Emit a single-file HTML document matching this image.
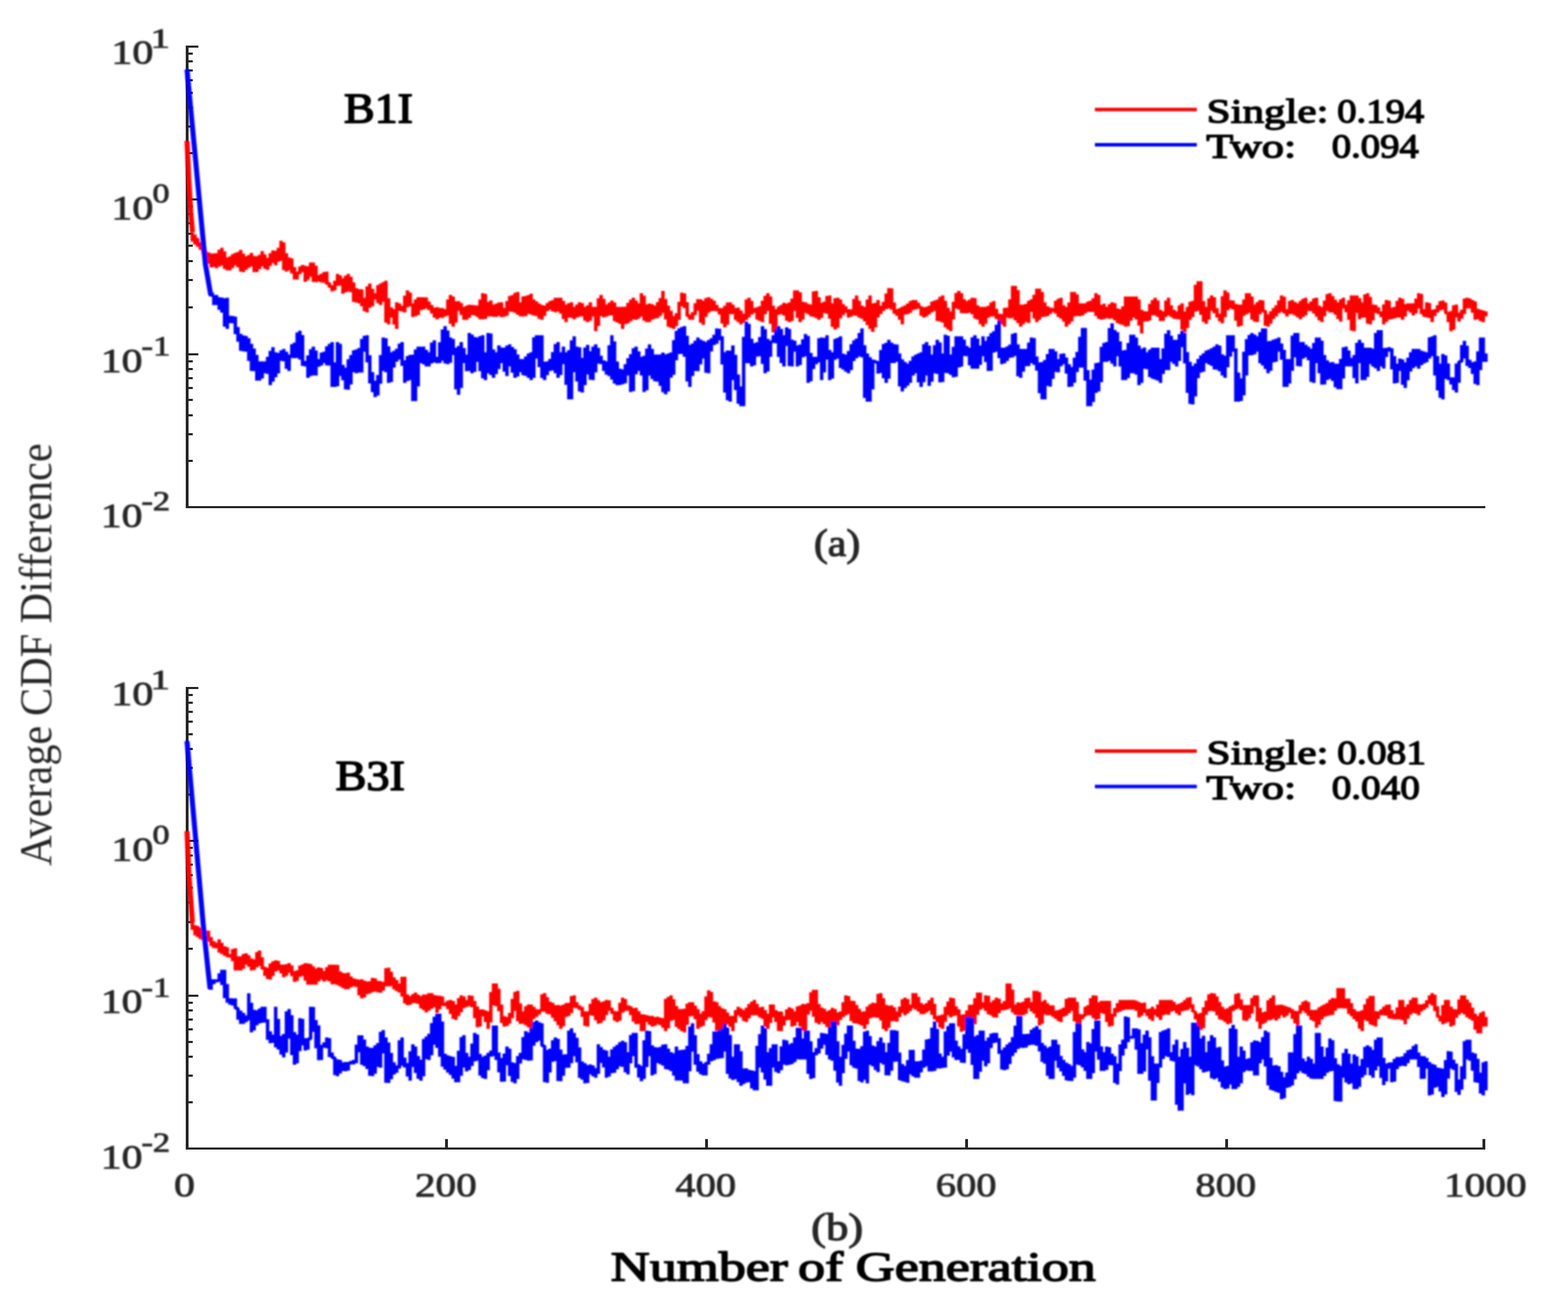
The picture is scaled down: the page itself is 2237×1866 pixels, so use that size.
<!DOCTYPE html>
<html lang="en"><head><meta charset="utf-8"><title>Average CDF Difference vs Number of Generation</title>
<style>html,body{margin:0;padding:0;background:#fff}body{width:2237px;height:1866px;overflow:hidden}svg{display:block}text{font-family:"Liberation Serif","DejaVu Serif",serif;white-space:pre}</style>
</head><body>
<svg width="2237" height="1866" viewBox="0 0 2237 1866">
<rect width="2237" height="1866" fill="#fff"/>
<defs><filter id="bl" x="-5%" y="-5%" width="110%" height="110%"><feGaussianBlur stdDeviation="1.08 0.90"/></filter></defs>
<g fill="#262626" shape-rendering="crispEdges">
<rect x="265" y="65" width="4" height="660"/>
<rect x="265" y="722" width="1854" height="3"/>
<path d="M269 217h6v3h-6zM269 179h6v3h-6zM269 152h6v3h-6zM269 131h6v3h-6zM269 113h6v3h-6zM269 99h6v3h-6zM269 86h6v3h-6zM269 75h6v3h-6zM269 437h6v3h-6zM269 398h6v3h-6zM269 371h6v3h-6zM269 349h6v3h-6zM269 332h6v3h-6zM269 317h6v3h-6zM269 304h6v3h-6zM269 293h6v3h-6zM269 656h6v3h-6zM269 618h6v3h-6zM269 591h6v3h-6zM269 569h6v3h-6zM269 552h6v3h-6zM269 538h6v3h-6zM269 525h6v3h-6zM269 514h6v3h-6zM269 65h14v3h-14zM269 283h14v3h-14zM269 504h14v3h-14z"/>
<rect x="265" y="980" width="4" height="660"/>
<rect x="265" y="1637" width="1854" height="3"/>
<path d="M269 1132h6v3h-6zM269 1094h6v3h-6zM269 1067h6v3h-6zM269 1046h6v3h-6zM269 1028h6v3h-6zM269 1014h6v3h-6zM269 1001h6v3h-6zM269 990h6v3h-6zM269 1352h6v3h-6zM269 1314h6v3h-6zM269 1286h6v3h-6zM269 1265h6v3h-6zM269 1247h6v3h-6zM269 1232h6v3h-6zM269 1219h6v3h-6zM269 1208h6v3h-6zM269 1571h6v3h-6zM269 1533h6v3h-6zM269 1506h6v3h-6zM269 1485h6v3h-6zM269 1467h6v3h-6zM269 1453h6v3h-6zM269 1440h6v3h-6zM269 1429h6v3h-6zM269 980h14v3h-14zM269 1198h14v3h-14zM269 1419h14v3h-14zM635 1625h4v12h-4zM1006 1625h4v12h-4zM1377 1625h4v12h-4zM1748 1625h4v12h-4zM2115 1625h4v12h-4z"/>
</g>
<g filter="url(#bl)">
<g transform="scale(1.2 1)" fill="none" stroke="#ff0000">
<path d="M222.33 201.0L224.58 259.0L226.83 304.0L228.58 327.0L228.62 331.4" stroke-width="6.0" stroke-linejoin="round" stroke-linecap="butt"/>
<path d="M228.62 331.4L228.62 331.4L228.62 344.6L228.62 339.5L231.82 339.5L231.82 334.4L231.82 348.9L231.82 344.2L235.02 344.2L235.02 339.6L235.02 352.0L235.02 348.7L238.21 348.7L238.21 345.4L238.21 356.4L238.21 354.3L241.41 354.3L241.41 352.2L241.41 362.6L241.41 360.0L244.61 360.0L244.61 357.3L244.61 370.7L244.61 365.4L247.81 365.4L247.81 360.1L247.81 376.2L247.81 368.8L251.00 368.8L251.00 361.5L251.00 381.5L251.00 371.1L254.20 371.1L254.20 361.5L254.20 380.8L254.20 371.1L257.40 371.1L257.40 361.3L257.40 382.4L257.40 370.8L260.60 370.8L260.60 356.3L260.60 380.2L260.60 367.6L263.79 367.6L263.79 353.4L263.79 378.8L263.79 368.7L266.99 368.7L266.99 358.5L266.99 383.5L266.99 375.3L270.19 375.3L270.19 367.2L270.19 385.8L270.19 376.5L273.39 376.5L273.39 365.7L273.39 385.8L273.39 374.1L276.58 374.1L276.58 362.5L276.58 382.5L276.58 370.5L279.78 370.5L279.78 360.8L279.78 378.5L279.78 369.6L282.98 369.6L282.98 359.4L282.98 381.6L282.98 370.5L286.18 370.5L286.18 356.6L286.18 387.6L286.18 374.7L289.37 374.7L289.37 361.7L289.37 388.2L289.37 375.2L292.57 375.2L292.57 365.5L292.57 384.9L292.57 373.8L295.77 373.8L295.77 363.7L295.77 382.0L295.77 371.9L298.97 371.9L298.97 360.7L298.97 380.1L298.97 372.7L302.16 372.7L302.16 365.2L302.16 388.2L302.16 376.9L305.36 376.9L305.36 365.5L305.36 388.2L305.36 374.7L308.56 374.7L308.56 363.5L308.56 383.9L308.56 371.8L311.75 371.8L311.75 358.2L311.75 380.1L311.75 371.6L314.95 371.6L314.95 363.1L314.95 383.4L314.95 375.7L318.15 375.7L318.15 368.0L318.15 385.0L318.15 373.8L321.35 373.8L321.35 361.2L321.35 379.6L321.35 368.2L324.55 368.2L324.55 357.2L324.55 375.3L324.55 366.5L327.74 366.5L327.74 357.8L327.74 378.5L327.74 365.7L330.94 365.7L330.94 353.4L330.94 373.6L330.94 362.7L334.14 362.7L334.14 343.6L334.14 372.0L334.14 358.9L337.34 358.9L337.34 345.7L337.34 385.2L337.34 373.3L340.53 373.3L340.53 361.3L340.53 387.4L340.53 376.5L343.73 376.5L343.73 367.2L343.73 385.7L343.73 377.1L346.93 377.1L346.93 368.6L346.93 390.3L346.93 385.7L350.13 385.7L350.13 381.0L350.13 398.7L350.13 393.1L353.32 393.1L353.32 387.4L353.32 398.8L353.32 389.2L356.52 389.2L356.52 380.2L356.52 390.9L356.52 384.2L359.72 384.2L359.72 378.1L359.72 388.2L359.72 383.8L362.92 383.8L362.92 379.3L362.92 402.0L362.92 389.6L366.11 389.6L366.11 379.8L366.11 399.4L366.11 387.3L369.31 387.3L369.31 374.4L369.31 394.7L369.31 384.6L372.51 384.6L372.51 374.4L372.51 402.3L372.51 390.7L375.71 390.7L375.71 379.0L375.71 402.6L375.71 397.0L378.90 397.0L378.90 392.3L378.90 401.7L378.90 397.0L382.10 397.0L382.10 390.6L382.10 402.8L382.10 396.7L385.30 396.7L385.30 388.1L385.30 403.5L385.30 395.8L388.50 395.8L388.50 387.4L388.50 405.9L388.50 404.4L391.69 404.4L391.69 402.9L391.69 410.6L391.69 408.8L394.89 408.8L394.89 406.9L394.89 415.8L394.89 410.6L398.09 410.6L398.09 400.6L398.09 414.3L398.09 404.1L401.29 404.1L401.29 390.7L401.29 407.7L401.29 400.1L404.48 400.1L404.48 392.7L404.48 407.5L404.48 402.3L407.68 402.3L407.68 397.1L407.68 419.0L407.68 407.1L410.88 407.1L410.88 393.2L410.88 417.1L410.88 404.5L414.07 404.5L414.07 390.7L414.07 415.8L414.07 405.3L417.27 405.3L417.27 394.8L417.27 416.8L417.27 409.7L420.47 409.7L420.47 402.7L420.47 430.8L420.47 421.0L423.67 421.0L423.67 411.1L423.67 431.5L423.67 422.0L426.87 422.0L426.87 412.4L426.87 432.7L426.87 422.7L430.06 422.7L430.06 412.8L430.06 436.9L430.06 430.8L433.26 430.8L433.26 424.7L433.26 443.9L433.26 434.3L436.46 434.3L436.46 408.5L436.46 445.8L436.46 423.7L439.66 423.7L439.66 404.4L439.66 439.0L439.66 424.4L442.85 424.4L442.85 412.1L442.85 436.7L442.85 422.7L446.05 422.7L446.05 418.2L446.05 427.2L446.05 422.7L449.25 422.7L449.25 406.7L449.25 432.4L449.25 419.5L452.44 419.5L452.44 404.4L452.44 435.3L452.44 417.4L455.64 417.4L455.64 402.5L455.64 430.4L455.64 416.4L458.84 416.4L458.84 400.4L458.84 460.2L458.84 442.9L462.04 442.9L462.04 425.6L462.04 462.8L462.04 445.9L465.24 445.9L465.24 438.6L465.24 453.1L465.24 447.0L468.43 447.0L468.43 440.9L468.43 463.0L468.43 452.0L471.63 452.0L471.63 431.2L471.63 469.3L471.63 438.0L474.83 438.0L474.83 432.7L474.83 443.4L474.83 439.7L478.03 439.7L478.03 436.1L478.03 444.4L478.03 440.2L481.22 440.2L481.22 421.7L481.22 445.8L481.22 430.2L484.42 430.2L484.42 414.2L484.42 438.6L484.42 427.1L487.62 427.1L487.62 417.3L487.62 436.9L487.62 434.8L490.82 434.8L490.82 432.8L490.82 452.3L490.82 441.9L494.01 441.9L494.01 427.2L494.01 451.0L494.01 438.4L497.21 438.4L497.21 423.9L497.21 449.5L497.21 433.2L500.41 433.2L500.41 423.9L500.41 442.5L500.41 432.8L503.61 432.8L503.61 423.9L503.61 441.6L503.61 432.2L506.80 432.2L506.80 424.3L506.80 440.1L506.80 435.0L510.00 435.0L510.00 429.9L510.00 442.5L510.00 438.7L513.20 438.7L513.20 435.0L513.20 447.3L513.20 443.0L516.39 443.0L516.39 438.7L516.39 453.0L516.39 445.8L519.59 445.8L519.59 438.3L519.59 455.5L519.59 446.5L522.79 446.5L522.79 439.3L522.79 453.6L522.79 446.4L525.99 446.4L525.99 439.4L525.99 453.4L525.99 446.2L529.19 446.2L529.19 440.9L529.19 451.5L529.19 445.5L532.38 445.5L532.38 427.2L532.38 450.2L532.38 438.7L535.58 438.7L535.58 420.7L535.58 462.1L535.58 442.6L538.78 442.6L538.78 423.0L538.78 466.1L538.78 445.0L541.98 445.0L541.98 429.7L541.98 460.4L541.98 436.6L545.17 436.6L545.17 429.6L545.17 443.4L545.17 437.8L548.37 437.8L548.37 432.3L548.37 449.4L548.37 443.5L551.57 443.5L551.57 437.7L551.57 456.3L551.57 447.0L554.77 447.0L554.77 436.0L554.77 456.3L554.77 444.7L557.96 444.7L557.96 434.8L557.96 453.4L557.96 442.2L561.16 442.2L561.16 435.0L561.16 449.5L561.16 442.5L564.36 442.5L564.36 435.5L564.36 449.9L564.36 442.8L567.56 442.8L567.56 435.8L567.56 452.2L567.56 444.0L570.75 444.0L570.75 427.2L570.75 455.5L570.75 441.4L573.95 441.4L573.95 418.2L573.95 455.5L573.95 437.2L577.15 437.2L577.15 419.3L577.15 455.1L577.15 441.1L580.35 441.1L580.35 430.8L580.35 451.4L580.35 441.0L583.54 441.0L583.54 428.4L583.54 451.2L583.54 442.8L586.74 442.8L586.74 434.4L586.74 451.9L586.74 443.2L589.94 443.2L589.94 433.2L589.94 452.0L589.94 442.0L593.14 442.0L593.14 431.5L593.14 450.8L593.14 441.1L596.33 441.1L596.33 431.2L596.33 452.6L596.33 445.5L599.53 445.5L599.53 439.3L599.53 451.7L599.53 444.9L602.73 444.9L602.73 429.5L602.73 450.5L602.73 437.0L605.93 437.0L605.93 422.3L605.93 444.6L605.93 433.5L609.12 433.5L609.12 421.1L609.12 445.0L609.12 433.0L612.32 433.0L612.32 417.8L612.32 446.3L612.32 432.1L615.52 432.1L615.52 416.6L615.52 449.1L615.52 440.1L618.72 440.1L618.72 431.2L618.72 451.3L618.72 441.2L621.91 441.2L621.91 422.7L621.91 451.5L621.91 436.8L625.11 436.8L625.11 422.3L625.11 450.9L625.11 435.1L628.31 435.1L628.31 420.9L628.31 447.8L628.31 434.4L631.51 434.4L631.51 419.0L631.51 448.8L631.51 438.0L634.70 438.0L634.70 427.2L634.70 450.2L634.70 440.2L637.90 440.2L637.90 430.1L637.90 451.1L637.90 442.1L641.10 442.1L641.10 433.0L641.10 454.7L641.10 444.8L644.30 444.8L644.30 435.0L644.30 456.3L644.30 443.4L647.49 443.4L647.49 436.1L647.49 450.7L647.49 440.1L650.69 440.1L650.69 432.3L650.69 444.1L650.69 437.0L653.89 437.0L653.89 429.6L653.89 441.7L653.89 435.7L657.09 435.7L657.09 428.2L657.09 444.3L657.09 436.3L660.28 436.3L660.28 424.7L660.28 445.5L660.28 434.6L663.48 434.6L663.48 424.7L663.48 444.5L663.48 434.6L666.68 434.6L666.68 424.7L666.68 447.4L666.68 438.3L669.88 438.3L669.88 429.2L669.88 455.2L669.88 444.8L673.07 444.8L673.07 434.4L673.07 459.6L673.07 443.8L676.27 443.8L676.27 432.6L676.27 453.1L676.27 442.9L679.47 442.9L679.47 431.2L679.47 453.6L679.47 445.7L682.67 445.7L682.67 437.7L682.67 455.5L682.67 445.3L685.86 445.3L685.86 434.6L685.86 453.0L685.86 443.0L689.06 443.0L689.06 431.2L689.06 451.5L689.06 442.0L692.26 442.0L692.26 432.5L692.26 451.5L692.26 444.6L695.46 444.6L695.46 437.7L695.46 457.4L695.46 447.5L698.65 447.5L698.65 435.6L698.65 459.6L698.65 446.5L701.85 446.5L701.85 431.2L701.85 457.4L701.85 444.6L705.05 444.6L705.05 437.7L705.05 451.5L705.05 444.6L708.25 444.6L708.25 437.7L708.25 472.6L708.25 451.4L711.44 451.4L711.44 425.6L711.44 465.1L711.44 438.3L714.64 438.3L714.64 420.7L714.64 451.0L714.64 438.7L717.84 438.7L717.84 426.3L717.84 452.7L717.84 443.1L721.03 443.1L721.03 434.4L721.03 451.8L721.03 442.2L724.23 442.2L724.23 431.7L724.23 449.9L724.23 440.8L727.43 440.8L727.43 428.8L727.43 449.9L727.43 440.7L730.63 440.7L730.63 431.5L730.63 458.3L730.63 448.0L733.83 448.0L733.83 437.7L733.83 460.1L733.83 448.9L737.02 448.9L737.02 437.7L737.02 462.0L737.02 449.8L740.22 449.8L740.22 437.7L740.22 469.3L740.22 449.9L743.42 449.9L743.42 437.5L743.42 462.2L743.42 449.4L746.62 449.4L746.62 432.0L746.62 461.2L746.62 445.2L749.81 445.2L749.81 427.4L749.81 458.5L749.81 441.6L753.01 441.6L753.01 424.7L753.01 455.8L753.01 442.3L756.21 442.3L756.21 428.8L756.21 456.2L756.21 443.6L759.41 443.6L759.41 432.8L759.41 454.5L759.41 442.1L762.60 442.1L762.60 418.2L762.60 451.5L762.60 436.8L765.80 436.8L765.80 422.0L765.80 457.5L765.80 445.9L769.00 445.9L769.00 434.2L769.00 459.6L769.00 446.9L772.20 446.9L772.20 433.0L772.20 459.6L772.20 445.0L775.39 445.0L775.39 434.0L775.39 456.0L775.39 445.3L778.59 445.3L778.59 436.1L778.59 454.5L778.59 444.9L781.79 444.9L781.79 431.0L781.79 453.8L781.79 440.9L784.99 440.9L784.99 425.2L784.99 450.8L784.99 435.9L788.18 435.9L788.18 415.0L788.18 446.6L788.18 436.6L791.38 436.6L791.38 426.5L791.38 455.8L791.38 445.9L794.58 445.9L794.58 436.0L794.58 466.0L794.58 454.6L797.78 454.6L797.78 443.2L797.78 467.7L797.78 459.2L800.97 459.2L800.97 450.7L800.97 469.3L800.97 457.9L804.17 457.9L804.17 446.7L804.17 465.2L804.17 451.6L807.37 451.6L807.37 430.4L807.37 456.5L807.37 433.6L810.57 433.6L810.57 417.4L810.57 436.9L810.57 427.7L813.76 427.7L813.76 418.6L813.76 439.6L813.76 435.3L816.96 435.3L816.96 431.0L816.96 450.2L816.96 450.4L820.16 450.4L820.16 450.7L820.16 456.3L820.16 453.5L823.36 453.5L823.36 445.2L823.36 456.3L823.36 447.4L826.55 447.4L826.55 432.5L826.55 449.6L826.55 437.9L829.75 437.9L829.75 426.8L829.75 443.4L829.75 435.2L832.95 435.2L832.95 427.0L832.95 460.5L832.95 444.7L836.15 444.7L836.15 429.0L836.15 463.6L836.15 440.5L839.34 440.5L839.34 425.2L839.34 452.0L839.34 435.7L842.54 435.7L842.54 423.9L842.54 446.2L842.54 435.1L845.74 435.1L845.74 426.2L845.74 444.0L845.74 436.2L848.94 436.2L848.94 429.1L848.94 443.4L848.94 439.1L852.13 439.1L852.13 434.8L852.13 444.2L852.13 441.7L855.33 441.7L855.33 439.3L855.33 448.7L855.33 444.1L858.53 444.1L858.53 439.6L858.53 461.5L858.53 450.6L861.73 450.6L861.73 436.2L861.73 466.9L861.73 449.7L864.92 449.7L864.92 431.5L864.92 463.2L864.92 439.8L868.12 439.8L868.12 431.2L868.12 448.2L868.12 441.2L871.32 441.2L871.32 434.5L871.32 447.9L871.32 443.6L874.52 443.6L874.52 439.2L874.52 456.4L874.52 447.8L877.71 447.8L877.71 438.8L877.71 459.5L877.71 451.3L880.91 451.3L880.91 443.0L880.91 462.8L880.91 453.9L884.11 453.9L884.11 447.4L884.11 460.4L884.11 452.0L887.31 452.0L887.31 427.2L887.31 456.6L887.31 439.9L890.50 439.9L890.50 424.7L890.50 452.7L890.50 439.0L893.70 439.0L893.70 429.3L893.70 448.7L893.70 443.0L896.90 443.0L896.90 439.3L896.90 446.6L896.90 443.0L900.10 443.0L900.10 438.2L900.10 455.9L900.10 447.0L903.29 447.0L903.29 436.7L903.29 457.8L903.29 447.3L906.49 447.3L906.49 428.9L906.49 459.6L906.49 438.8L909.69 438.8L909.69 422.0L909.69 448.6L909.69 432.7L912.88 432.7L912.88 418.2L912.88 443.4L912.88 433.1L916.08 433.1L916.08 422.8L916.08 462.1L916.08 449.1L919.28 449.1L919.28 436.0L919.28 474.2L919.28 457.4L922.48 457.4L922.48 440.9L922.48 473.9L922.48 445.0L925.67 445.0L925.67 437.3L925.67 449.1L925.67 442.8L928.87 442.8L928.87 435.0L928.87 448.2L928.87 441.6L932.07 441.6L932.07 432.0L932.07 450.3L932.07 441.6L935.27 441.6L935.27 432.9L935.27 457.5L935.27 445.2L938.47 445.2L938.47 431.6L938.47 459.6L938.47 444.8L941.66 444.8L941.66 426.0L941.66 458.0L941.66 434.7L944.86 434.7L944.86 414.2L944.86 443.4L944.86 428.8L948.06 428.8L948.06 414.2L948.06 453.5L948.06 435.2L951.26 435.2L951.26 417.0L951.26 459.6L951.26 443.2L954.45 443.2L954.45 430.5L954.45 455.9L954.45 438.9L957.65 438.9L957.65 431.2L957.65 446.6L957.65 440.0L960.85 440.0L960.85 433.5L960.85 448.3L960.85 441.4L964.05 441.4L964.05 434.4L964.05 451.3L964.05 442.9L967.24 442.9L967.24 415.8L967.24 451.9L967.24 433.8L970.44 433.8L970.44 415.0L970.44 453.8L970.44 438.9L973.64 438.9L973.64 423.9L973.64 456.3L973.64 442.7L976.84 442.7L976.84 432.0L976.84 453.4L976.84 439.3L980.03 439.3L980.03 430.3L980.03 446.6L980.03 438.5L983.23 438.5L983.23 422.3L983.23 447.7L983.23 435.0L986.43 435.0L986.43 421.5L986.43 454.8L986.43 443.8L989.62 443.8L989.62 432.8L989.62 466.3L989.62 449.5L992.82 449.5L992.82 425.5L992.82 470.1L992.82 446.6L996.02 446.6L996.02 424.7L996.02 467.7L996.02 440.8L999.22 440.8L999.22 427.3L999.22 454.2L999.22 441.6L1002.42 441.6L1002.42 433.7L1002.42 449.5L1002.42 441.8L1005.61 441.8L1005.61 436.9L1005.61 446.6L1005.61 443.8L1008.81 443.8L1008.81 440.9L1008.81 453.1L1008.81 446.5L1012.01 446.5L1012.01 441.2L1012.01 451.8L1012.01 445.5L1015.21 445.5L1015.21 426.6L1015.21 449.9L1015.21 438.3L1018.40 438.3L1018.40 421.5L1018.40 450.4L1018.40 439.7L1021.60 439.7L1021.60 428.9L1021.60 453.2L1021.60 444.6L1024.80 444.6L1024.80 436.0L1024.80 454.8L1024.80 446.3L1028.00 446.3L1028.00 437.7L1028.00 458.5L1028.00 448.1L1031.19 448.1L1031.19 427.2L1031.19 463.8L1031.19 445.5L1034.39 445.5L1034.39 421.5L1034.39 469.2L1034.39 451.0L1037.59 451.0L1037.59 432.8L1037.59 473.4L1037.59 450.1L1040.79 450.1L1040.79 431.9L1040.79 467.3L1040.79 442.5L1043.98 442.5L1043.98 428.0L1043.98 453.1L1043.98 442.1L1047.18 442.1L1047.18 436.1L1047.18 448.1L1047.18 439.9L1050.38 439.9L1050.38 430.4L1050.38 443.8L1050.38 435.7L1053.58 435.7L1053.58 418.7L1053.58 441.0L1053.58 429.4L1056.77 429.4L1056.77 410.9L1056.77 440.1L1056.77 425.7L1059.97 425.7L1059.97 411.3L1059.97 441.7L1059.97 436.7L1063.17 436.7L1063.17 431.6L1063.17 447.7L1063.17 444.3L1066.37 444.3L1066.37 440.9L1066.37 450.5L1066.37 445.7L1069.56 445.7L1069.56 439.4L1069.56 456.3L1069.56 447.9L1072.76 447.9L1072.76 437.5L1072.76 462.8L1072.76 443.2L1075.96 443.2L1075.96 435.7L1075.96 448.8L1075.96 442.0L1079.16 442.0L1079.16 432.9L1079.16 448.3L1079.16 439.6L1082.35 439.6L1082.35 429.5L1082.35 446.3L1082.35 436.1L1085.55 436.1L1085.55 428.0L1085.55 442.6L1085.55 434.6L1088.75 434.6L1088.75 428.0L1088.75 441.2L1088.75 435.9L1091.95 435.9L1091.95 431.7L1091.95 440.1L1091.95 438.4L1095.14 438.4L1095.14 436.7L1095.14 450.6L1095.14 444.4L1098.34 444.4L1098.34 438.3L1098.34 453.1L1098.34 444.9L1101.54 444.9L1101.54 437.7L1101.54 451.5L1101.54 443.1L1104.74 443.1L1104.74 435.9L1104.74 448.5L1104.74 440.8L1107.93 440.8L1107.93 430.3L1107.93 445.6L1107.93 436.8L1111.13 436.8L1111.13 428.7L1111.13 443.4L1111.13 436.0L1114.33 436.0L1114.33 427.4L1114.33 458.1L1114.33 442.8L1117.53 442.8L1117.53 423.4L1117.53 458.5L1117.53 440.9L1120.72 440.9L1120.72 421.5L1120.72 460.2L1120.72 444.7L1123.92 444.7L1123.92 429.1L1123.92 467.1L1123.92 453.0L1127.12 453.0L1127.12 439.0L1127.12 470.1L1127.12 457.1L1130.32 457.1L1130.32 444.2L1130.32 472.6L1130.32 449.9L1133.51 449.9L1133.51 430.5L1133.51 455.7L1133.51 435.3L1136.71 435.3L1136.71 418.0L1136.71 440.1L1136.71 429.1L1139.91 429.1L1139.91 415.0L1139.91 441.5L1139.91 429.9L1143.11 429.9L1143.11 418.3L1143.11 446.8L1143.11 436.8L1146.30 436.8L1146.30 426.7L1146.30 447.0L1146.30 438.3L1149.50 438.3L1149.50 429.6L1149.50 446.9L1149.50 437.8L1152.70 437.8L1152.70 427.5L1152.70 446.0L1152.70 436.8L1155.90 436.8L1155.90 424.7L1155.90 448.4L1155.90 436.8L1159.09 436.8L1159.09 425.2L1159.09 454.5L1159.09 445.0L1162.29 445.0L1162.29 435.5L1162.29 455.9L1162.29 446.8L1165.49 446.8L1165.49 437.7L1165.49 462.5L1165.49 450.1L1168.69 450.1L1168.69 437.7L1168.69 466.1L1168.69 449.7L1171.88 449.7L1171.88 437.7L1171.88 461.8L1171.88 445.4L1175.08 445.4L1175.08 436.3L1175.08 453.2L1175.08 443.9L1178.28 443.9L1178.28 431.4L1178.28 451.6L1178.28 441.4L1181.48 441.4L1181.48 429.6L1181.48 451.5L1181.48 446.0L1184.67 446.0L1184.67 440.5L1184.67 455.2L1184.67 451.3L1187.87 451.3L1187.87 447.4L1187.87 458.7L1187.87 453.4L1191.07 453.4L1191.07 448.1L1191.07 462.8L1191.07 455.4L1194.27 455.4L1194.27 439.2L1194.27 466.1L1194.27 446.2L1197.46 446.2L1197.46 438.7L1197.46 453.1L1197.46 445.9L1200.66 445.9L1200.66 427.0L1200.66 454.2L1200.66 440.2L1203.86 440.2L1203.86 407.7L1203.86 453.4L1203.86 430.5L1207.06 430.5L1207.06 407.7L1207.06 457.0L1207.06 435.4L1210.25 435.4L1210.25 413.7L1210.25 460.9L1210.25 447.7L1213.45 447.7L1213.45 434.5L1213.45 466.1L1213.45 448.5L1216.65 448.5L1216.65 434.4L1216.65 462.6L1216.65 446.8L1219.85 446.8L1219.85 433.4L1219.85 459.2L1219.85 446.3L1223.04 446.3L1223.04 429.0L1223.04 460.8L1223.04 437.0L1226.24 437.0L1226.24 427.0L1226.24 445.0L1226.24 436.0L1229.44 436.0L1229.44 420.5L1229.44 454.3L1229.44 437.4L1232.63 437.4L1232.63 411.7L1232.63 459.6L1232.63 434.2L1235.83 434.2L1235.83 411.7L1235.83 456.6L1235.83 434.3L1239.03 434.3L1239.03 416.5L1239.03 452.2L1239.03 441.7L1242.23 441.7L1242.23 431.6L1242.23 451.8L1242.23 443.9L1245.43 443.9L1245.43 436.9L1245.43 450.9L1245.43 443.4L1248.62 443.4L1248.62 438.8L1248.62 448.0L1248.62 442.1L1251.82 442.1L1251.82 439.3L1251.82 445.0L1251.82 442.1L1255.02 442.1L1255.02 429.0L1255.02 447.6L1255.02 438.3L1258.22 438.3L1258.22 426.2L1258.22 452.2L1258.22 439.2L1261.41 439.2L1261.41 424.7L1261.41 454.4L1261.41 444.9L1264.61 444.9L1264.61 435.4L1264.61 458.8L1264.61 448.2L1267.81 448.2L1267.81 437.7L1267.81 466.1L1267.81 450.2L1271.01 450.2L1271.01 431.6L1271.01 462.6L1271.01 445.2L1274.20 445.2L1274.20 416.6L1274.20 458.8L1274.20 434.0L1277.40 434.0L1277.40 416.6L1277.40 451.4L1277.40 435.5L1280.60 435.5L1280.60 420.1L1280.60 450.8L1280.60 441.8L1283.80 441.8L1283.80 432.8L1283.80 451.1L1283.80 441.5L1286.99 441.5L1286.99 432.8L1286.99 450.1L1286.99 440.0L1290.19 440.0L1290.19 432.8L1290.19 447.2L1290.19 438.9L1293.39 438.9L1293.39 430.2L1293.39 445.0L1293.39 437.6L1296.59 437.6L1296.59 429.1L1296.59 445.0L1296.59 437.0L1299.78 437.0L1299.78 425.6L1299.78 445.1L1299.78 435.3L1302.98 435.3L1302.98 418.2L1302.98 450.8L1302.98 435.8L1306.18 435.8L1306.18 420.7L1306.18 454.8L1306.18 444.8L1309.38 444.8L1309.38 434.8L1309.38 456.1L1309.38 445.0L1312.57 445.0L1312.57 433.3L1312.57 455.3L1312.57 445.8L1315.77 445.8L1315.77 437.7L1315.77 454.0L1315.77 445.8L1318.97 445.8L1318.97 433.9L1318.97 454.7L1318.97 444.3L1322.17 444.3L1322.17 431.2L1322.17 454.6L1322.17 443.6L1325.36 443.6L1325.36 432.5L1325.36 457.0L1325.36 448.5L1328.56 448.5L1328.56 439.9L1328.56 461.1L1328.56 451.0L1331.76 451.0L1331.76 440.9L1331.76 462.5L1331.76 451.7L1334.96 451.7L1334.96 436.9L1334.96 463.4L1334.96 450.2L1338.15 450.2L1338.15 423.1L1338.15 466.1L1338.15 444.2L1341.35 444.2L1341.35 423.1L1341.35 465.2L1341.35 440.2L1344.55 440.2L1344.55 423.1L1344.55 457.4L1344.55 438.1L1347.75 438.1L1347.75 423.1L1347.75 453.1L1347.75 438.1L1350.94 438.1L1350.94 423.1L1350.94 455.7L1350.94 441.4L1354.14 441.4L1354.14 427.2L1354.14 464.6L1354.14 453.3L1357.34 453.3L1357.34 441.9L1357.34 475.8L1357.34 451.4L1360.54 451.4L1360.54 443.9L1360.54 458.8L1360.54 451.4L1363.73 451.4L1363.73 444.2L1363.73 458.6L1363.73 450.7L1366.93 450.7L1366.93 433.4L1366.93 457.3L1366.93 441.5L1370.13 441.5L1370.13 427.9L1370.13 449.7L1370.13 438.8L1373.33 438.8L1373.33 424.7L1373.33 449.9L1373.33 439.2L1376.52 439.2L1376.52 428.6L1376.52 452.2L1376.52 447.1L1379.72 447.1L1379.72 441.9L1379.72 458.0L1379.72 451.0L1382.92 451.0L1382.92 444.2L1382.92 457.8L1382.92 448.2L1386.12 448.2L1386.12 428.7L1386.12 452.3L1386.12 439.3L1389.31 439.3L1389.31 424.7L1389.31 449.9L1389.31 442.7L1392.51 442.7L1392.51 435.5L1392.51 452.3L1392.51 447.0L1395.71 447.0L1395.71 441.7L1395.71 454.7L1395.71 449.4L1398.91 449.4L1398.91 444.2L1398.91 455.3L1398.91 449.8L1402.10 449.8L1402.10 435.4L1402.10 455.8L1402.10 445.6L1405.30 445.6L1405.30 432.8L1405.30 470.6L1405.30 457.4L1408.50 457.4L1408.50 444.2L1408.50 474.2L1408.50 456.1L1411.70 456.1L1411.70 437.8L1411.70 468.1L1411.70 447.2L1414.89 447.2L1414.89 430.4L1414.89 456.6L1414.89 441.3L1418.09 441.3L1418.09 429.2L1418.09 452.2L1418.09 436.8L1421.29 436.8L1421.29 406.3L1421.29 444.4L1421.29 424.8L1424.49 424.8L1424.49 401.2L1424.49 443.4L1424.49 422.3L1427.68 422.3L1427.68 401.2L1427.68 449.3L1427.68 439.4L1430.88 439.4L1430.88 429.6L1430.88 459.2L1430.88 448.4L1434.08 448.4L1434.08 437.7L1434.08 462.0L1434.08 446.8L1437.28 446.8L1437.28 425.6L1437.28 456.0L1437.28 434.5L1440.47 434.5L1440.47 421.5L1440.47 443.4L1440.47 433.6L1443.67 433.6L1443.67 423.9L1443.67 447.0L1443.67 443.2L1446.87 443.2L1446.87 439.4L1446.87 452.9L1446.87 450.2L1450.07 450.2L1450.07 447.4L1450.07 458.4L1450.07 452.9L1453.26 452.9L1453.26 422.6L1453.26 461.2L1453.26 437.6L1456.46 437.6L1456.46 414.2L1456.46 452.5L1456.46 429.9L1459.66 429.9L1459.66 417.3L1459.66 442.4L1459.66 434.2L1462.86 434.2L1462.86 428.3L1462.86 440.1L1462.86 434.4L1466.05 434.4L1466.05 428.8L1466.05 441.4L1466.05 437.4L1469.25 437.4L1469.25 433.4L1469.25 457.4L1469.25 445.9L1472.45 445.9L1472.45 434.4L1472.45 466.1L1472.45 449.5L1475.65 449.5L1475.65 434.4L1475.65 464.7L1475.65 442.4L1478.84 442.4L1478.84 427.2L1478.84 450.4L1478.84 437.7L1482.04 437.7L1482.04 418.2L1482.04 448.2L1482.04 432.4L1485.24 432.4L1485.24 418.2L1485.24 446.6L1485.24 434.8L1488.44 434.8L1488.44 422.9L1488.44 455.9L1488.44 445.2L1491.63 445.2L1491.63 434.4L1491.63 458.7L1491.63 446.6L1494.83 446.6L1494.83 431.1L1494.83 459.6L1494.83 439.7L1498.03 439.7L1498.03 428.0L1498.03 448.2L1498.03 434.4L1501.23 434.4L1501.23 428.6L1501.23 440.1L1501.23 443.8L1504.42 443.8L1504.42 447.4L1504.42 464.8L1504.42 456.6L1507.62 456.6L1507.62 448.3L1507.62 466.1L1507.62 455.0L1510.82 455.0L1510.82 444.0L1510.82 461.7L1510.82 449.5L1514.02 449.5L1514.02 439.5L1514.02 454.9L1514.02 445.4L1517.21 445.4L1517.21 435.6L1517.21 451.4L1517.21 441.4L1520.41 441.4L1520.41 428.6L1520.41 447.1L1520.41 436.8L1523.61 436.8L1523.61 421.5L1523.61 445.0L1523.61 434.1L1526.81 434.1L1526.81 423.3L1526.81 447.2L1526.81 444.0L1530.00 444.0L1530.00 440.9L1530.00 451.5L1530.00 444.6L1533.20 444.6L1533.20 429.3L1533.20 448.2L1533.20 438.7L1536.40 438.7L1536.40 428.0L1536.40 448.2L1536.40 439.5L1539.60 439.5L1539.60 430.8L1539.60 450.0L1539.60 441.4L1542.79 441.4L1542.79 432.8L1542.79 452.7L1542.79 442.7L1545.99 442.7L1545.99 429.2L1545.99 455.5L1545.99 440.7L1549.19 440.7L1549.19 426.2L1549.19 452.2L1549.19 438.2L1552.39 438.2L1552.39 424.7L1552.39 450.1L1552.39 438.1L1555.58 438.1L1555.58 432.8L1555.58 443.4L1555.58 438.1L1558.78 438.1L1558.78 429.9L1558.78 444.1L1558.78 437.0L1561.98 437.0L1561.98 425.7L1561.98 447.3L1561.98 436.5L1565.18 436.5L1565.18 424.7L1565.18 451.8L1565.18 443.9L1568.37 443.9L1568.37 436.1L1568.37 457.1L1568.37 447.4L1571.57 447.4L1571.57 437.7L1571.57 459.6L1571.57 444.4L1574.77 444.4L1574.77 428.7L1574.77 451.2L1574.77 436.1L1577.97 436.1L1577.97 419.4L1577.97 443.4L1577.97 431.4L1581.16 431.4L1581.16 418.2L1581.16 445.8L1581.16 434.1L1584.36 434.1L1584.36 422.3L1584.36 446.0L1584.36 436.8L1587.56 436.8L1587.56 427.6L1587.56 449.0L1587.56 440.1L1590.76 440.1L1590.76 431.2L1590.76 455.1L1590.76 443.1L1593.95 443.1L1593.95 427.1L1593.95 458.8L1593.95 433.6L1597.15 433.6L1597.15 424.7L1597.15 440.1L1597.15 437.3L1600.35 437.3L1600.35 434.4L1600.35 445.5L1600.35 440.0L1603.55 440.0L1603.55 428.6L1603.55 456.3L1603.55 442.5L1606.74 442.5L1606.74 421.5L1606.74 471.6L1606.74 446.5L1609.94 446.5L1609.94 421.5L1609.94 472.6L1609.94 434.0L1613.14 434.0L1613.14 421.5L1613.14 446.6L1613.14 435.9L1616.34 435.9L1616.34 425.3L1616.34 455.5L1616.34 442.2L1619.53 442.2L1619.53 431.2L1619.53 453.2L1619.53 442.1L1622.73 442.1L1622.73 420.1L1622.73 453.1L1622.73 436.6L1625.93 436.6L1625.93 418.2L1625.93 461.7L1625.93 442.6L1629.12 442.6L1629.12 423.5L1629.12 462.8L1629.12 445.7L1632.32 445.7L1632.32 434.3L1632.32 457.1L1632.32 440.8L1635.52 440.8L1635.52 435.0L1635.52 446.6L1635.52 442.4L1638.72 442.4L1638.72 438.3L1638.72 448.1L1638.72 446.1L1641.92 446.1L1641.92 444.2L1641.92 452.4L1641.92 448.3L1645.11 448.3L1645.11 434.3L1645.11 462.8L1645.11 446.8L1648.31 446.8L1648.31 428.0L1648.31 459.2L1648.31 442.5L1651.51 442.5L1651.51 429.1L1651.51 456.0L1651.51 446.9L1654.71 446.9L1654.71 438.7L1654.71 455.2L1654.71 446.5L1657.90 446.5L1657.90 437.7L1657.90 454.3L1657.90 445.4L1661.10 445.4L1661.10 429.3L1661.10 453.1L1661.10 441.2L1664.30 441.2L1664.30 424.7L1664.30 453.1L1664.30 439.7L1667.50 439.7L1667.50 426.3L1667.50 456.3L1667.50 442.7L1670.69 442.7L1670.69 433.9L1670.69 451.4L1670.69 438.7L1673.89 438.7L1673.89 432.8L1673.89 443.4L1673.89 438.1L1677.09 438.1L1677.09 432.8L1677.09 446.1L1677.09 439.5L1680.29 439.5L1680.29 432.8L1680.29 449.9L1680.29 440.0L1683.48 440.0L1683.48 425.9L1683.48 447.1L1683.48 433.0L1686.68 433.0L1686.68 418.2L1686.68 440.1L1686.68 429.7L1689.88 429.7L1689.88 419.2L1689.88 448.3L1689.88 444.6L1693.08 444.6L1693.08 440.9L1693.08 451.9L1693.08 446.4L1696.27 446.4L1696.27 431.2L1696.27 452.8L1696.27 442.5L1699.47 442.5L1699.47 432.2L1699.47 453.8L1699.47 447.9L1702.67 447.9L1702.67 442.0L1702.67 459.6L1702.67 446.5L1705.87 446.5L1705.87 440.9L1705.87 451.1L1705.87 443.4L1709.06 443.4L1709.06 435.3L1709.06 446.0L1709.06 439.0L1712.26 439.0L1712.26 429.4L1712.26 442.8L1712.26 435.6L1715.46 435.6L1715.46 428.8L1715.46 441.7L1715.46 436.6L1718.65 436.6L1718.65 431.5L1718.65 445.6L1718.65 446.5L1721.85 446.5L1721.85 447.4L1721.85 459.4L1721.85 453.4L1725.05 453.4L1725.05 443.7L1725.05 472.6L1725.05 457.1L1728.25 457.1L1728.25 435.4L1728.25 470.5L1728.25 444.3L1731.44 444.3L1731.44 434.4L1731.44 453.1L1731.44 449.4L1734.64 449.4L1734.64 445.8L1734.64 458.8L1734.64 450.3L1737.84 450.3L1737.84 441.7L1737.84 454.8L1737.84 444.8L1741.04 444.8L1741.04 425.9L1741.04 448.0L1741.04 433.0L1744.23 433.0L1744.23 424.7L1744.23 440.0L1744.23 432.9L1747.43 432.9L1747.43 425.8L1747.43 440.1L1747.43 434.0L1750.63 434.0L1750.63 428.0L1750.63 446.2L1750.63 438.1L1753.83 438.1L1753.83 430.0L1753.83 456.2L1753.83 447.9L1757.02 447.9L1757.02 440.6L1757.02 455.3L1757.02 448.5L1760.22 448.5L1760.22 441.7L1760.22 458.3L1760.22 450.7L1763.42 450.7L1763.42 443.0L1763.42 459.6L1763.42 447.8L1766.62 447.8L1766.62 444.2L1766.62 451.5" stroke-width="4.1" stroke-linejoin="bevel" stroke-linecap="butt"/>
</g>
<g transform="scale(1.2 1)" fill="none" stroke="#0000ff">
<path d="M222.33 99.0L244.17 376.7L250.42 420.0L254.20 420.7" stroke-width="6.0" stroke-linejoin="round" stroke-linecap="butt"/>
<path d="M254.20 420.7L254.20 420.7L254.20 435.2L254.20 428.0L257.40 428.0L257.40 420.7L257.40 435.3L257.40 429.7L260.60 429.7L260.60 424.1L260.60 441.9L260.60 433.2L263.79 433.2L263.79 424.5L263.79 445.9L263.79 435.7L266.99 435.7L266.99 425.5L266.99 466.1L266.99 445.8L270.19 445.8L270.19 424.7L270.19 469.3L270.19 455.7L273.39 455.7L273.39 450.4L273.39 461.0L273.39 455.9L276.58 455.9L276.58 450.8L276.58 461.2L276.58 456.4L279.78 456.4L279.78 451.7L279.78 476.7L279.78 471.7L282.98 471.7L282.98 466.6L282.98 487.5L282.98 481.9L286.18 481.9L286.18 476.3L286.18 500.5L286.18 489.5L289.37 489.5L289.37 478.5L289.37 501.2L289.37 490.2L292.57 490.2L292.57 479.3L292.57 501.7L292.57 492.1L295.77 492.1L295.77 482.5L295.77 514.9L295.77 502.7L298.97 502.7L298.97 490.5L298.97 529.2L298.97 513.2L302.16 513.2L302.16 497.3L302.16 529.6L302.16 518.0L305.36 518.0L305.36 506.3L305.36 543.1L305.36 529.3L308.56 529.3L308.56 515.5L308.56 543.1L308.56 527.8L311.75 527.8L311.75 515.5L311.75 540.1L311.75 524.0L314.95 524.0L314.95 515.4L314.95 532.5L314.95 524.0L318.15 524.0L318.15 509.1L318.15 533.4L318.15 521.3L321.35 521.3L321.35 500.6L321.35 549.6L321.35 522.6L324.55 522.6L324.55 495.2L324.55 544.5L324.55 520.4L327.74 520.4L327.74 502.5L327.74 538.2L327.74 518.0L330.94 518.0L330.94 503.4L330.94 532.7L330.94 509.0L334.14 509.0L334.14 499.7L334.14 514.7L334.14 507.2L337.34 507.2L337.34 497.7L337.34 515.5L337.34 508.7L340.53 508.7L340.53 501.8L340.53 526.3L340.53 516.0L343.73 516.0L343.73 505.8L343.73 529.3L343.73 508.2L346.93 508.2L346.93 490.9L346.93 510.7L346.93 500.8L350.13 500.8L350.13 488.7L350.13 511.1L350.13 499.7L353.32 499.7L353.32 474.2L353.32 510.8L353.32 492.5L356.52 492.5L356.52 471.7L356.52 513.0L356.52 495.5L359.72 495.5L359.72 478.0L359.72 521.9L359.72 518.3L362.92 518.3L362.92 514.7L362.92 522.8L362.92 518.8L366.11 518.8L366.11 507.0L366.11 539.0L366.11 521.8L369.31 521.8L369.31 498.2L369.31 536.6L369.31 516.8L372.51 516.8L372.51 494.4L372.51 535.4L372.51 517.7L375.71 517.7L375.71 499.9L375.71 535.8L375.71 517.8L378.90 517.8L378.90 512.3L378.90 523.3L378.90 516.9L382.10 516.9L382.10 502.9L382.10 521.5L382.10 510.4L385.30 510.4L385.30 501.8L385.30 518.0L385.30 509.9L388.50 509.9L388.50 494.0L388.50 521.2L388.50 507.6L391.69 507.6L391.69 490.5L391.69 521.6L391.69 506.0L394.89 506.0L394.89 487.9L394.89 552.0L394.89 534.6L398.09 534.6L398.09 517.1L398.09 552.0L398.09 534.1L401.29 534.1L401.29 487.9L401.29 551.1L401.29 513.6L404.48 513.6L404.48 490.6L404.48 536.6L404.48 528.5L407.68 528.5L407.68 520.5L407.68 542.4L407.68 533.4L410.88 533.4L410.88 524.4L410.88 555.4L410.88 539.9L414.07 539.9L414.07 512.6L414.07 556.1L414.07 530.6L417.27 530.6L417.27 506.6L417.27 548.6L417.27 518.8L420.47 518.8L420.47 499.7L420.47 531.1L420.47 515.4L423.67 515.4L423.67 498.6L423.67 532.4L423.67 515.0L426.87 515.0L426.87 496.4L426.87 531.4L426.87 513.9L430.06 513.9L430.06 483.5L430.06 531.4L430.06 492.6L433.26 492.6L433.26 479.0L433.26 501.7L433.26 490.4L436.46 490.4L436.46 478.2L436.46 517.1L436.46 511.9L439.66 511.9L439.66 506.7L439.66 547.1L439.66 538.9L442.85 538.9L442.85 530.8L442.85 559.5L442.85 551.3L446.05 551.3L446.05 543.1L446.05 566.6L446.05 553.7L449.25 553.7L449.25 535.0L449.25 564.2L449.25 541.2L452.44 541.2L452.44 506.6L452.44 547.4L452.44 517.9L455.64 517.9L455.64 481.5L455.64 529.3L455.64 505.9L458.84 505.9L458.84 482.6L458.84 531.1L458.84 512.5L462.04 512.5L462.04 493.9L462.04 546.3L462.04 523.8L465.24 523.8L465.24 502.5L465.24 545.1L465.24 513.5L468.43 513.5L468.43 500.5L468.43 524.4L468.43 508.2L471.63 508.2L471.63 497.4L471.63 515.9L471.63 505.2L474.83 505.2L474.83 490.3L474.83 513.1L474.83 501.7L478.03 501.7L478.03 487.9L478.03 522.0L478.03 517.9L481.22 517.9L481.22 513.9L481.22 546.3L481.22 528.7L484.42 528.7L484.42 508.1L484.42 543.5L484.42 525.2L487.62 525.2L487.62 506.2L487.62 542.3L487.62 524.2L490.82 524.2L490.82 505.9L490.82 572.3L490.82 539.1L494.01 539.1L494.01 498.6L494.01 572.3L494.01 524.9L497.21 524.9L497.21 494.4L497.21 551.2L497.21 506.2L500.41 506.2L500.41 494.4L500.41 518.0L500.41 506.2L503.61 506.2L503.61 494.4L503.61 519.8L503.61 509.3L506.80 509.3L506.80 498.9L506.80 522.8L506.80 512.7L510.00 512.7L510.00 502.5L510.00 522.8L510.00 510.5L513.20 510.5L513.20 488.7L513.20 518.5L513.20 502.8L516.39 502.8L516.39 485.5L516.39 517.0L516.39 513.0L519.59 513.0L519.59 509.0L519.59 518.2L519.59 513.5L522.79 513.5L522.79 488.3L522.79 518.0L522.79 501.5L525.99 501.5L525.99 470.0L525.99 514.7L525.99 492.4L529.19 492.4L529.19 465.2L529.19 518.5L529.19 495.0L532.38 495.0L532.38 471.4L532.38 519.6L532.38 499.5L535.58 499.5L535.58 481.5L535.58 517.5L535.58 495.0L538.78 495.0L538.78 483.4L538.78 506.6L538.78 501.3L541.98 501.3L541.98 496.1L541.98 555.6L541.98 525.8L545.17 525.8L545.17 493.4L545.17 563.3L545.17 523.5L548.37 523.5L548.37 487.9L548.37 553.6L548.37 507.2L551.57 507.2L551.57 496.5L551.57 518.0L551.57 511.9L554.77 511.9L554.77 505.8L554.77 529.6L554.77 517.5L557.96 517.5L557.96 475.0L557.96 529.3L557.96 503.3L561.16 503.3L561.16 477.2L561.16 532.5L561.16 505.6L564.36 505.6L564.36 480.7L564.36 530.5L564.36 498.9L567.56 498.9L567.56 481.5L567.56 516.3L567.56 498.9L570.75 498.9L570.75 479.4L570.75 529.5L570.75 504.5L573.95 504.5L573.95 478.2L573.95 539.7L573.95 521.1L577.15 521.1L577.15 502.5L577.15 542.3L577.15 517.5L580.35 517.5L580.35 475.0L580.35 532.5L580.35 504.1L583.54 504.1L583.54 475.7L583.54 535.1L583.54 516.8L586.74 516.8L586.74 498.4L586.74 539.0L586.74 518.1L589.94 518.1L589.94 502.5L589.94 533.7L589.94 514.6L593.14 514.6L593.14 492.8L593.14 526.6L593.14 506.9L596.33 506.9L596.33 495.8L596.33 518.0L596.33 507.0L599.53 507.0L599.53 496.1L599.53 530.2L599.53 513.1L602.73 513.1L602.73 493.1L602.73 536.6L602.73 508.0L605.93 508.0L605.93 491.2L605.93 522.8L605.93 508.8L609.12 508.8L609.12 494.9L609.12 531.7L609.12 515.0L612.32 515.0L612.32 498.3L612.32 539.0L612.32 521.4L615.52 521.4L615.52 505.7L615.52 537.0L615.52 521.6L618.72 521.6L618.72 512.3L618.72 530.9L618.72 521.6L621.91 521.6L621.91 512.2L621.91 535.3L621.91 523.7L625.11 523.7L625.11 508.5L625.11 536.3L625.11 522.4L628.31 522.4L628.31 504.2L628.31 538.9L628.31 521.5L631.51 521.5L631.51 502.5L631.51 542.3L631.51 520.8L634.70 520.8L634.70 481.3L634.70 539.1L634.70 496.4L637.90 496.4L637.90 478.2L637.90 511.5L637.90 494.8L641.10 494.8L641.10 478.2L641.10 523.8L641.10 501.0L644.30 501.0L644.30 478.2L644.30 539.2L644.30 527.5L647.49 527.5L647.49 515.9L647.49 542.3L647.49 525.6L650.69 525.6L650.69 515.5L650.69 535.3L650.69 522.4L653.89 522.4L653.89 511.9L653.89 529.3L653.89 520.1L657.09 520.1L657.09 502.3L657.09 528.4L657.09 515.3L660.28 515.3L660.28 490.7L660.28 532.5L660.28 511.6L663.48 511.6L663.48 487.9L663.48 539.0L663.48 518.8L666.68 518.8L666.68 502.5L666.68 535.0L666.68 511.1L669.88 511.1L669.88 494.4L669.88 519.6L669.88 511.1L673.07 511.1L673.07 502.5L673.07 549.0L673.07 525.8L676.27 525.8L676.27 499.4L676.27 569.8L676.27 534.6L679.47 534.6L679.47 485.4L679.47 569.8L679.47 508.2L682.67 508.2L682.67 479.8L682.67 530.9L682.67 512.7L685.86 512.7L685.86 494.5L685.86 544.2L685.86 519.8L689.06 519.8L689.06 495.5L689.06 558.5L689.06 534.6L692.26 534.6L692.26 510.6L692.26 560.1L692.26 530.0L695.46 530.0L695.46 495.8L695.46 549.4L695.46 515.0L698.65 515.0L698.65 492.0L698.65 534.2L698.65 517.5L701.85 517.5L701.85 500.9L701.85 541.7L701.85 521.3L705.05 521.3L705.05 494.4L705.05 542.3L705.05 512.9L708.25 512.9L708.25 491.2L708.25 531.3L708.25 507.5L711.44 507.5L711.44 496.3L711.44 518.7L711.44 513.1L714.64 513.1L714.64 507.6L714.64 519.6L714.64 516.8L717.84 516.8L717.84 514.0L717.84 529.2L717.84 522.3L721.03 522.3L721.03 515.5L721.03 534.6L721.03 525.1L724.23 525.1L724.23 492.4L724.23 536.5L724.23 514.4L727.43 514.4L727.43 478.2L727.43 541.5L727.43 514.3L730.63 514.3L730.63 487.1L730.63 547.2L730.63 531.5L733.83 531.5L733.83 515.8L733.83 549.6L733.83 537.6L737.02 537.6L737.02 526.0L737.02 549.2L737.02 537.6L740.22 537.6L740.22 526.9L740.22 548.3L740.22 536.8L743.42 536.8L743.42 519.6L743.42 546.7L743.42 527.7L746.62 527.7L746.62 510.9L746.62 535.8L746.62 523.4L749.81 523.4L749.81 505.2L749.81 559.3L749.81 531.6L753.01 531.6L753.01 496.8L753.01 558.0L753.01 515.3L756.21 515.3L756.21 494.4L756.21 533.9L756.21 515.3L759.41 515.3L759.41 501.3L759.41 529.3L759.41 519.2L762.60 519.2L762.60 509.0L762.60 535.8L762.60 522.4L765.80 522.4L765.80 507.5L765.80 559.3L765.80 532.1L769.00 532.1L769.00 497.2L769.00 556.7L769.00 516.5L772.20 516.5L772.20 491.2L772.20 535.8L772.20 516.8L775.39 516.8L775.39 497.8L775.39 540.7L775.39 523.2L778.59 523.2L778.59 505.8L778.59 543.9L778.59 524.9L781.79 524.9L781.79 505.8L781.79 544.6L781.79 525.2L784.99 525.2L784.99 505.8L784.99 550.4L784.99 528.1L788.18 528.1L788.18 502.9L788.18 559.4L788.18 532.5L791.38 532.5L791.38 505.6L791.38 562.5L791.38 532.0L794.58 532.0L794.58 504.2L794.58 558.4L794.58 521.5L797.78 521.5L797.78 502.8L797.78 538.7L797.78 518.8L800.97 518.8L800.97 485.3L800.97 534.8L800.97 499.6L804.17 499.6L804.17 472.1L804.17 513.9L804.17 488.5L807.37 488.5L807.37 468.4L807.37 505.0L807.37 486.7L810.57 486.7L810.57 466.5L810.57 505.0L810.57 485.8L813.76 485.8L813.76 465.2L813.76 508.9L813.76 494.0L816.96 494.0L816.96 479.0L816.96 544.2L816.96 518.1L820.16 518.1L820.16 492.0L820.16 552.0L820.16 514.2L823.36 514.2L823.36 490.1L823.36 536.4L823.36 509.7L826.55 509.7L826.55 485.9L826.55 529.3L826.55 507.6L829.75 507.6L829.75 481.5L829.75 529.5L829.75 502.2L832.95 502.2L832.95 484.6L832.95 519.8L832.95 498.9L836.15 498.9L836.15 486.3L836.15 511.5L836.15 499.6L839.34 499.6L839.34 487.8L839.34 531.7L839.34 509.8L842.54 509.8L842.54 484.9L842.54 532.5L842.54 493.2L845.74 493.2L845.74 482.4L845.74 501.6L845.74 487.4L848.94 487.4L848.94 477.4L848.94 492.3L848.94 483.9L852.13 483.9L852.13 468.5L852.13 490.4L852.13 477.2L855.33 477.2L855.33 468.9L855.33 485.5L855.33 482.6L858.53 482.6L858.53 479.6L858.53 519.9L858.53 511.2L861.73 511.2L861.73 502.5L861.73 560.0L861.73 531.3L864.92 531.3L864.92 499.9L864.92 571.1L864.92 535.7L868.12 535.7L868.12 500.2L868.12 573.1L868.12 521.2L871.32 521.2L871.32 492.8L871.32 542.3L871.32 524.3L874.52 524.3L874.52 506.3L874.52 556.5L874.52 545.3L877.71 545.3L877.71 534.2L877.71 576.1L877.71 563.6L880.91 563.6L880.91 551.2L880.91 579.6L880.91 565.4L884.11 565.4L884.11 480.4L884.11 579.6L884.11 499.2L887.31 499.2L887.31 458.8L887.31 518.0L887.31 490.0L890.50 490.0L890.50 462.0L890.50 518.2L890.50 500.7L893.70 500.7L893.70 483.3L893.70 522.8L893.70 505.4L896.90 505.4L896.90 489.6L896.90 521.2L896.90 499.2L900.10 499.2L900.10 488.2L900.10 508.8L900.10 498.2L903.29 498.2L903.29 480.7L903.29 508.2L903.29 494.5L906.49 494.5L906.49 465.2L906.49 519.2L906.49 494.3L909.69 494.3L909.69 469.4L909.69 532.5L909.69 506.8L912.88 506.8L912.88 483.6L912.88 530.0L912.88 497.7L916.08 497.7L916.08 486.3L916.08 509.1L916.08 487.5L919.28 487.5L919.28 478.3L919.28 488.8L919.28 483.6L922.48 483.6L922.48 469.7L922.48 489.8L922.48 479.7L925.67 479.7L925.67 465.2L925.67 509.3L925.67 489.2L928.87 489.2L928.87 469.2L928.87 517.9L928.87 498.0L932.07 498.0L932.07 478.2L932.07 522.8L932.07 485.9L935.27 485.9L935.27 466.9L935.27 493.6L935.27 481.4L938.47 481.4L938.47 469.2L938.47 522.2L938.47 503.4L941.66 503.4L941.66 484.5L941.66 522.8L941.66 493.8L944.86 493.8L944.86 485.9L944.86 501.7L944.86 497.3L948.06 497.3L948.06 492.8L948.06 522.8L948.06 506.8L951.26 506.8L951.26 491.4L951.26 520.7L951.26 500.6L954.45 500.6L954.45 484.0L954.45 509.8L954.45 496.1L957.65 496.1L957.65 476.6L957.65 508.2L957.65 493.7L960.85 493.7L960.85 479.2L960.85 546.3L960.85 523.7L964.05 523.7L964.05 503.4L964.05 544.1L964.05 517.6L967.24 517.6L967.24 508.9L967.24 526.4L967.24 514.3L970.44 514.3L970.44 509.0L970.44 519.6L970.44 513.0L973.64 513.0L973.64 482.4L973.64 516.9L973.64 499.7L976.84 499.7L976.84 481.6L976.84 542.3L976.84 506.7L980.03 506.7L980.03 482.1L980.03 531.2L980.03 497.6L983.23 497.6L983.23 478.2L983.23 513.1L983.23 506.1L986.43 506.1L986.43 499.2L986.43 542.3L986.43 521.2L989.62 521.2L989.62 502.5L989.62 539.9L989.62 507.9L992.82 507.9L992.82 483.6L992.82 513.2L992.82 497.5L996.02 497.5L996.02 482.0L996.02 511.5L996.02 496.7L999.22 496.7L999.22 479.8L999.22 525.1L999.22 514.8L1002.42 514.8L1002.42 504.5L1002.42 527.3L1002.42 516.5L1005.61 516.5L1005.61 505.8L1005.61 530.2L1005.61 518.0L1008.81 518.0L1008.81 500.8L1008.81 532.5L1008.81 514.4L1012.01 514.4L1012.01 491.1L1012.01 528.1L1012.01 503.1L1015.21 503.1L1015.21 485.6L1015.21 515.0L1015.21 498.3L1018.40 498.3L1018.40 483.1L1018.40 511.1L1018.40 495.8L1021.60 495.8L1021.60 474.9L1021.60 508.4L1021.60 491.6L1024.80 491.6L1024.80 468.5L1024.80 509.8L1024.80 501.1L1028.00 501.1L1028.00 492.4L1028.00 567.7L1028.00 535.9L1031.19 535.9L1031.19 504.2L1031.19 573.1L1031.19 541.3L1034.39 541.3L1034.39 509.5L1034.39 573.1L1034.39 534.3L1037.59 534.3L1037.59 513.0L1037.59 555.6L1037.59 515.3L1040.79 515.3L1040.79 514.3L1040.79 516.3L1040.79 516.7L1043.98 516.7L1043.98 517.1L1043.98 532.9L1043.98 524.6L1047.18 524.6L1047.18 499.2L1047.18 532.1L1047.18 515.6L1050.38 515.6L1050.38 490.7L1050.38 539.7L1050.38 515.2L1053.58 515.2L1053.58 488.9L1053.58 546.3L1053.58 514.6L1056.77 514.6L1056.77 484.7L1056.77 540.3L1056.77 503.4L1059.97 503.4L1059.97 488.8L1059.97 518.0L1059.97 504.5L1063.17 504.5L1063.17 491.0L1063.17 518.0L1063.17 503.8L1066.37 503.8L1066.37 491.5L1066.37 516.1L1066.37 510.2L1069.56 510.2L1069.56 504.2L1069.56 551.3L1069.56 531.9L1072.76 531.9L1072.76 512.5L1072.76 558.5L1072.76 535.0L1075.96 535.0L1075.96 516.2L1075.96 553.7L1075.96 534.5L1079.16 534.5L1079.16 518.8L1079.16 550.2L1079.16 532.3L1082.35 532.3L1082.35 514.7L1082.35 545.9L1082.35 525.2L1085.55 525.2L1085.55 508.5L1085.55 535.7L1085.55 520.5L1088.75 520.5L1088.75 506.0L1088.75 532.5L1088.75 519.2L1091.95 519.2L1091.95 504.2L1091.95 545.6L1091.95 524.9L1095.14 524.9L1095.14 502.6L1095.14 552.0L1095.14 524.0L1098.34 524.0L1098.34 490.9L1098.34 545.3L1098.34 513.4L1101.54 513.4L1101.54 487.9L1101.54 535.8L1101.54 514.3L1104.74 514.3L1104.74 492.9L1104.74 550.4L1104.74 525.1L1107.93 525.1L1107.93 505.8L1107.93 544.4L1107.93 519.2L1111.13 519.2L1111.13 492.5L1111.13 532.5L1111.13 512.5L1114.33 512.5L1114.33 484.7L1114.33 533.4L1114.33 510.9L1117.53 510.9L1117.53 488.4L1117.53 545.5L1117.53 524.6L1120.72 524.6L1120.72 504.2L1120.72 545.1L1120.72 518.1L1123.92 518.1L1123.92 477.4L1123.92 532.1L1123.92 505.5L1127.12 505.5L1127.12 479.0L1127.12 532.5L1127.12 519.2L1130.32 519.2L1130.32 505.8L1130.32 534.7L1130.32 520.2L1133.51 520.2L1133.51 494.8L1133.51 538.2L1133.51 516.1L1136.71 516.1L1136.71 479.8L1136.71 537.4L1136.71 502.0L1139.91 502.0L1139.91 479.8L1139.91 524.2L1139.91 501.4L1143.11 501.4L1143.11 479.8L1143.11 522.9L1143.11 496.2L1146.30 496.2L1146.30 484.6L1146.30 507.8L1146.30 500.7L1149.50 500.7L1149.50 493.6L1149.50 508.2L1149.50 502.1L1152.70 502.1L1152.70 496.1L1152.70 521.2L1152.70 508.6L1155.90 508.6L1155.90 481.2L1155.90 526.1L1155.90 503.6L1159.09 503.6L1159.09 478.2L1159.09 526.1L1159.09 504.5L1162.29 504.5L1162.29 482.9L1162.29 526.1L1162.29 506.6L1165.49 506.6L1165.49 492.8L1165.49 520.4L1165.49 500.5L1168.69 500.5L1168.69 479.8L1168.69 508.2L1168.69 497.3L1171.88 497.3L1171.88 486.3L1171.88 516.5L1171.88 501.4L1175.08 501.4L1175.08 480.1L1175.08 529.3L1175.08 504.5L1178.28 504.5L1178.28 475.2L1178.28 529.0L1178.28 489.1L1181.48 489.1L1181.48 472.5L1181.48 503.0L1181.48 487.1L1184.67 487.1L1184.67 463.3L1184.67 501.7L1184.67 482.5L1187.87 482.5L1187.87 457.1L1187.87 511.1L1187.87 503.6L1191.07 503.6L1191.07 496.1L1191.07 519.6L1191.07 507.1L1194.27 507.1L1194.27 496.0L1194.27 518.2L1194.27 505.4L1197.46 505.4L1197.46 494.3L1197.46 514.9L1197.46 502.5L1200.66 502.5L1200.66 491.4L1200.66 510.6L1200.66 500.6L1203.86 500.6L1203.86 476.3L1203.86 509.8L1203.86 492.0L1207.06 492.0L1207.06 475.0L1207.06 507.7L1207.06 499.5L1210.25 499.5L1210.25 491.2L1210.25 536.8L1210.25 517.2L1213.45 517.2L1213.45 497.7L1213.45 539.0L1213.45 513.9L1216.65 513.9L1216.65 497.7L1216.65 530.2L1216.65 510.0L1219.85 510.0L1219.85 497.7L1219.85 522.4L1219.85 510.0L1223.04 510.0L1223.04 488.8L1223.04 522.2L1223.04 503.4L1226.24 503.4L1226.24 481.5L1226.24 518.0L1226.24 500.1L1229.44 500.1L1229.44 482.3L1229.44 520.6L1229.44 514.5L1232.63 514.5L1232.63 508.4L1232.63 528.7L1232.63 522.9L1235.83 522.9L1235.83 517.1L1235.83 560.9L1235.83 539.0L1239.03 539.0L1239.03 516.6L1239.03 569.8L1239.03 543.2L1242.23 543.2L1242.23 513.6L1242.23 569.8L1242.23 532.1L1245.43 532.1L1245.43 505.1L1245.43 550.5L1245.43 527.8L1248.62 527.8L1248.62 497.7L1248.62 551.4L1248.62 519.1L1251.82 519.1L1251.82 497.7L1251.82 540.5L1251.82 515.9L1255.02 515.9L1255.02 501.3L1255.02 530.5L1255.02 521.4L1258.22 521.4L1258.22 512.3L1258.22 531.2L1258.22 517.3L1261.41 517.3L1261.41 504.8L1261.41 522.4L1261.41 512.2L1264.61 512.2L1264.61 504.2L1264.61 519.6L1264.61 514.8L1267.81 514.8L1267.81 510.1L1267.81 533.0L1267.81 526.2L1271.01 526.2L1271.01 519.4L1271.01 552.0L1271.01 537.6L1274.20 537.6L1274.20 523.6L1274.20 551.5L1274.20 534.8L1277.40 534.8L1277.40 510.3L1277.40 545.9L1277.40 520.5L1280.60 520.5L1280.60 501.9L1280.60 530.7L1280.60 513.2L1283.80 513.2L1283.80 480.4L1283.80 524.4L1283.80 502.4L1286.99 502.4L1286.99 467.7L1286.99 524.4L1286.99 496.1L1290.19 496.1L1290.19 467.7L1290.19 542.9L1290.19 535.4L1293.39 535.4L1293.39 527.9L1293.39 579.6L1293.39 560.5L1296.59 560.5L1296.59 541.4L1296.59 579.6L1296.59 557.4L1299.78 557.4L1299.78 527.3L1299.78 573.4L1299.78 543.9L1302.98 543.9L1302.98 517.9L1302.98 560.6L1302.98 538.2L1306.18 538.2L1306.18 517.2L1306.18 558.6L1306.18 531.2L1309.38 531.2L1309.38 494.7L1309.38 545.2L1309.38 505.5L1312.57 505.5L1312.57 489.3L1312.57 516.3L1312.57 502.8L1315.77 502.8L1315.77 488.1L1315.77 516.3L1315.77 501.4L1318.97 501.4L1318.97 468.1L1318.97 514.7L1318.97 491.4L1322.17 491.4L1322.17 461.2L1322.17 518.7L1322.17 494.7L1325.36 494.7L1325.36 470.7L1325.36 522.8L1325.36 491.0L1328.56 491.0L1328.56 473.7L1328.56 508.2L1328.56 497.7L1331.76 497.7L1331.76 487.1L1331.76 522.8L1331.76 511.4L1334.96 511.4L1334.96 499.9L1334.96 542.3L1334.96 521.1L1338.15 521.1L1338.15 499.3L1338.15 542.3L1338.15 519.3L1341.35 519.3L1341.35 489.3L1341.35 539.3L1341.35 510.9L1344.55 510.9L1344.55 477.4L1344.55 532.5L1344.55 505.0L1347.75 505.0L1347.75 477.4L1347.75 532.5L1347.75 507.0L1350.94 507.0L1350.94 481.4L1350.94 534.5L1350.94 513.8L1354.14 513.8L1354.14 493.1L1354.14 549.6L1354.14 521.9L1357.34 521.9L1357.34 497.6L1357.34 546.2L1357.34 511.8L1360.54 511.8L1360.54 495.7L1360.54 526.1L1360.54 514.3L1363.73 514.3L1363.73 502.5L1363.73 526.8L1363.73 514.7L1366.93 514.7L1366.93 498.8L1366.93 537.9L1366.93 518.3L1370.13 518.3L1370.13 496.1L1370.13 540.3L1370.13 518.2L1373.33 518.2L1373.33 496.1L1373.33 541.6L1373.33 518.8L1376.52 518.8L1376.52 496.1L1376.52 543.0L1376.52 527.7L1379.72 527.7L1379.72 512.3L1379.72 546.3L1379.72 522.9L1382.92 522.9L1382.92 497.0L1382.92 533.6L1382.92 512.5L1386.12 512.5L1386.12 475.9L1386.12 528.1L1386.12 501.9L1389.31 501.9L1389.31 470.9L1389.31 527.9L1389.31 497.6L1392.51 497.6L1392.51 478.9L1392.51 516.3L1392.51 500.5L1395.71 500.5L1395.71 484.7L1395.71 519.3L1395.71 502.0L1398.91 502.0L1398.91 484.7L1398.91 522.8L1398.91 499.9L1402.10 499.9L1402.10 476.7L1402.10 515.0L1402.10 486.0L1405.30 486.0L1405.30 471.7L1405.30 495.3L1405.30 485.2L1408.50 485.2L1408.50 475.1L1408.50 518.4L1408.50 510.3L1411.70 510.3L1411.70 502.3L1411.70 560.4L1411.70 538.3L1414.89 538.3L1414.89 516.2L1414.89 576.2L1414.89 549.1L1418.09 549.1L1418.09 522.0L1418.09 577.1L1418.09 543.7L1421.29 543.7L1421.29 518.4L1421.29 565.5L1421.29 529.0L1424.49 529.0L1424.49 511.9L1424.49 539.6L1424.49 521.7L1427.68 521.7L1427.68 507.1L1427.68 531.5L1427.68 518.7L1430.88 518.7L1430.88 504.0L1430.88 530.3L1430.88 511.0L1434.08 511.0L1434.08 500.3L1434.08 518.0L1434.08 509.1L1437.28 509.1L1437.28 498.7L1437.28 520.0L1437.28 509.3L1440.47 509.3L1440.47 496.8L1440.47 522.1L1440.47 509.4L1443.67 509.4L1443.67 494.5L1443.67 527.1L1443.67 510.8L1446.87 510.8L1446.87 491.2L1446.87 527.5L1446.87 510.3L1450.07 510.3L1450.07 493.1L1450.07 529.7L1450.07 517.7L1453.26 517.7L1453.26 505.6L1453.26 535.8L1453.26 521.6L1456.46 521.6L1456.46 507.4L1456.46 539.0L1456.46 515.7L1459.66 515.7L1459.66 478.2L1459.66 524.0L1459.66 493.5L1462.86 493.5L1462.86 478.2L1462.86 508.8L1462.86 490.0L1466.05 490.0L1466.05 478.2L1466.05 501.7L1466.05 499.3L1469.25 499.3L1469.25 496.9L1469.25 573.1L1469.25 552.2L1472.45 552.2L1472.45 531.4L1472.45 573.1L1472.45 555.9L1475.65 555.9L1475.65 539.8L1475.65 571.9L1475.65 551.9L1478.84 551.9L1478.84 501.7L1478.84 563.9L1478.84 518.7L1482.04 518.7L1482.04 483.7L1482.04 535.7L1482.04 495.4L1485.24 495.4L1485.24 477.8L1485.24 507.0L1485.24 492.3L1488.44 492.3L1488.44 475.0L1488.44 506.8L1488.44 491.5L1491.63 491.5L1491.63 477.3L1491.63 505.6L1491.63 490.8L1494.83 490.8L1494.83 479.8L1494.83 501.7L1494.83 490.8L1498.03 490.8L1498.03 473.8L1498.03 518.3L1498.03 496.1L1501.23 496.1L1501.23 468.5L1501.23 521.5L1501.23 495.0L1504.42 495.0L1504.42 468.5L1504.42 526.6L1504.42 506.6L1507.62 506.6L1507.62 486.7L1507.62 532.5L1507.62 507.9L1510.82 507.9L1510.82 486.3L1510.82 529.1L1510.82 501.7L1514.02 501.7L1514.02 484.4L1514.02 517.0L1514.02 500.2L1517.21 500.2L1517.21 483.3L1517.21 516.0L1517.21 492.5L1520.41 492.5L1520.41 481.5L1520.41 501.7L1520.41 495.9L1523.61 495.9L1523.61 490.0L1523.61 513.3L1523.61 506.1L1526.81 506.1L1526.81 499.0L1526.81 552.0L1526.81 532.1L1530.00 532.1L1530.00 512.3L1530.00 552.0L1530.00 529.8L1533.20 529.8L1533.20 512.3L1533.20 547.3L1533.20 520.6L1536.40 520.6L1536.40 478.7L1536.40 529.0L1536.40 494.3L1539.60 494.3L1539.60 475.0L1539.60 509.8L1539.60 492.4L1542.79 492.4L1542.79 475.0L1542.79 522.3L1542.79 505.2L1545.99 505.2L1545.99 488.1L1545.99 522.8L1545.99 499.9L1549.19 499.9L1549.19 487.8L1549.19 511.8L1549.19 500.8L1552.39 500.8L1552.39 491.7L1552.39 509.8L1552.39 502.1L1555.58 502.1L1555.58 494.4L1555.58 514.0L1555.58 505.8L1558.78 505.8L1558.78 497.5L1558.78 544.7L1558.78 521.1L1561.98 521.1L1561.98 489.3L1561.98 546.3L1561.98 503.6L1565.18 503.6L1565.18 481.5L1565.18 518.0L1565.18 499.7L1568.37 499.7L1568.37 481.5L1568.37 532.5L1568.37 509.3L1571.57 509.3L1571.57 486.1L1571.57 548.8L1571.57 527.5L1574.77 527.5L1574.77 506.5L1574.77 548.6L1574.77 528.1L1577.97 528.1L1577.97 514.1L1577.97 542.1L1577.97 528.8L1581.16 528.8L1581.16 517.0L1581.16 540.6L1581.16 528.8L1584.36 528.8L1584.36 516.6L1584.36 543.4L1584.36 531.0L1587.56 531.0L1587.56 518.7L1587.56 552.5L1587.56 535.6L1590.76 535.6L1590.76 518.8L1590.76 555.2L1590.76 537.0L1593.95 537.0L1593.95 512.0L1593.95 555.2L1593.95 526.0L1597.15 526.0L1597.15 495.4L1597.15 539.9L1597.15 509.1L1600.35 509.1L1600.35 494.4L1600.35 522.8L1600.35 511.4L1603.55 511.4L1603.55 499.9L1603.55 522.8L1603.55 516.7L1606.74 516.7L1606.74 510.6L1606.74 522.8L1606.74 516.7L1609.94 516.7L1609.94 506.6L1609.94 539.5L1609.94 523.1L1613.14 523.1L1613.14 489.1L1613.14 547.1L1613.14 503.5L1616.34 503.5L1616.34 484.7L1616.34 518.0L1616.34 503.4L1619.53 503.4L1619.53 488.9L1619.53 542.3L1619.53 519.2L1622.73 519.2L1622.73 496.1L1622.73 542.3L1622.73 516.9L1625.93 516.9L1625.93 496.1L1625.93 537.8L1625.93 507.8L1629.12 507.8L1629.12 496.1L1629.12 519.6L1629.12 508.6L1632.32 508.6L1632.32 497.6L1632.32 522.9L1632.32 510.2L1635.52 510.2L1635.52 475.1L1635.52 525.5L1635.52 500.3L1638.72 500.3L1638.72 470.9L1638.72 529.3L1638.72 496.8L1641.92 496.8L1641.92 470.9L1641.92 522.8L1641.92 509.6L1645.11 509.6L1645.11 496.4L1645.11 525.8L1645.11 502.8L1648.31 502.8L1648.31 496.3L1648.31 509.2L1648.31 499.0L1651.51 499.0L1651.51 495.3L1651.51 501.7L1651.51 499.2L1654.71 499.2L1654.71 496.7L1654.71 526.9L1654.71 517.5L1657.90 517.5L1657.90 508.0L1657.90 547.1L1657.90 532.5L1661.10 532.5L1661.10 518.8L1661.10 546.2L1661.10 524.0L1664.30 524.0L1664.30 511.5L1664.30 529.3L1664.30 521.0L1667.50 521.0L1667.50 512.7L1667.50 549.1L1667.50 533.1L1670.69 533.1L1670.69 517.1L1670.69 553.6L1670.69 529.8L1673.89 529.8L1673.89 510.3L1673.89 542.6L1673.89 520.2L1677.09 520.2L1677.09 502.6L1677.09 530.1L1677.09 514.0L1680.29 514.0L1680.29 497.7L1680.29 525.3L1680.29 510.2L1683.48 510.2L1683.48 497.7L1683.48 522.8L1683.48 510.2L1686.68 510.2L1686.68 497.7L1686.68 526.1L1686.68 510.6L1689.88 510.6L1689.88 500.3L1689.88 520.9L1689.88 510.1L1693.08 510.1L1693.08 501.5L1693.08 518.6L1693.08 509.7L1696.27 509.7L1696.27 502.5L1696.27 516.8L1696.27 507.0L1699.47 507.0L1699.47 481.3L1699.47 511.4L1699.47 494.8L1702.67 494.8L1702.67 480.1L1702.67 508.2L1702.67 494.2L1705.87 494.2L1705.87 478.2L1705.87 535.8L1705.87 521.9L1709.06 521.9L1709.06 507.9L1709.06 556.9L1709.06 537.8L1712.26 537.8L1712.26 518.8L1712.26 567.6L1712.26 543.2L1715.46 543.2L1715.46 505.0L1715.46 569.8L1715.46 523.8L1718.65 523.8L1718.65 507.1L1718.65 540.6L1718.65 529.6L1721.85 529.6L1721.85 518.6L1721.85 542.3L1721.85 540.3L1725.05 540.3L1725.05 538.2L1725.05 548.5L1725.05 543.4L1728.25 543.4L1728.25 538.2L1728.25 556.6L1728.25 547.4L1731.44 547.4L1731.44 518.6L1731.44 560.1L1731.44 532.3L1734.64 532.3L1734.64 515.6L1734.64 545.9L1734.64 515.8L1737.84 515.8L1737.84 492.3L1737.84 516.0L1737.84 501.9L1741.04 501.9L1741.04 486.3L1741.04 511.5L1741.04 502.3L1744.23 502.3L1744.23 493.2L1744.23 522.0L1744.23 517.7L1747.43 517.7L1747.43 513.3L1747.43 525.1L1747.43 521.0L1750.63 521.0L1750.63 516.8L1750.63 533.5L1750.63 525.2L1753.83 525.2L1753.83 515.5L1753.83 547.8L1753.83 531.6L1757.02 531.6L1757.02 501.2L1757.02 549.6L1757.02 514.6L1760.22 514.6L1760.22 481.5L1760.22 528.0L1760.22 498.9L1763.42 498.9L1763.42 481.5L1763.42 516.3L1763.42 510.2L1766.62 510.2L1766.62 504.2L1766.62 516.3" stroke-width="4.1" stroke-linejoin="bevel" stroke-linecap="butt"/>
</g>
<g transform="scale(1.2 1)" fill="none" stroke="#ff0000">
<path d="M222.33 1185.6L224.58 1247.0L226.83 1283.0L228.33 1308.0L228.62 1316.3" stroke-width="6.0" stroke-linejoin="round" stroke-linecap="butt"/>
<path d="M228.62 1316.3L228.62 1316.3L228.62 1326.6L228.62 1323.2L231.82 1323.2L231.82 1319.7L231.82 1334.6L231.82 1327.8L235.02 1327.8L235.02 1320.9L235.02 1337.0L235.02 1330.2L238.21 1330.2L238.21 1323.3L238.21 1339.7L238.21 1333.2L241.41 1333.2L241.41 1326.8L241.41 1341.3L241.41 1334.4L244.61 1334.4L244.61 1327.5L244.61 1342.2L244.61 1335.0L247.81 1335.0L247.81 1327.8L247.81 1343.4L247.81 1340.1L251.00 1340.1L251.00 1336.7L251.00 1349.8L251.00 1346.2L254.20 1346.2L254.20 1342.5L254.20 1352.7L254.20 1348.7L257.40 1348.7L257.40 1344.7L257.40 1352.8L257.40 1348.7L260.60 1348.7L260.60 1339.9L260.60 1358.9L260.60 1352.0L263.79 1352.0L263.79 1345.1L263.79 1360.9L263.79 1355.5L266.99 1355.5L266.99 1350.1L266.99 1363.6L266.99 1357.5L270.19 1357.5L270.19 1351.3L270.19 1365.6L270.19 1363.3L273.39 1363.3L273.39 1360.9L273.39 1366.3L273.39 1363.6L276.58 1363.6L276.58 1354.1L276.58 1371.2L276.58 1362.6L279.78 1362.6L279.78 1352.8L279.78 1384.5L279.78 1374.3L282.98 1374.3L282.98 1364.2L282.98 1384.5L282.98 1374.3L286.18 1374.3L286.18 1364.2L286.18 1384.5L286.18 1373.2L289.37 1373.2L289.37 1361.0L289.37 1382.3L289.37 1368.7L292.57 1368.7L292.57 1360.1L292.57 1376.3L292.57 1369.5L295.77 1369.5L295.77 1362.7L295.77 1379.3L295.77 1373.3L298.97 1373.3L298.97 1367.4L298.97 1384.5L298.97 1376.1L302.16 1376.1L302.16 1368.5L302.16 1383.7L302.16 1374.3L305.36 1374.3L305.36 1358.3L305.36 1380.2L305.36 1368.1L308.56 1368.1L308.56 1356.1L308.56 1378.0L308.56 1371.7L311.75 1371.7L311.75 1365.4L311.75 1383.1L311.75 1381.1L314.95 1381.1L314.95 1379.2L314.95 1392.2L314.95 1386.3L318.15 1386.3L318.15 1380.4L318.15 1396.8L318.15 1388.6L321.35 1388.6L321.35 1374.4L321.35 1397.4L321.35 1383.4L324.55 1383.4L324.55 1371.4L324.55 1392.4L324.55 1378.7L327.74 1378.7L327.74 1369.9L327.74 1386.0L327.74 1377.6L330.94 1377.6L330.94 1370.8L330.94 1384.5L330.94 1380.3L334.14 1380.3L334.14 1376.1L334.14 1388.7L334.14 1382.4L337.34 1382.4L337.34 1376.0L337.34 1394.2L337.34 1384.1L340.53 1384.1L340.53 1375.4L340.53 1392.2L340.53 1381.5L343.73 1381.5L343.73 1374.1L343.73 1387.7L343.73 1382.5L346.93 1382.5L346.93 1377.3L346.93 1392.5L346.93 1388.9L350.13 1388.9L350.13 1385.3L350.13 1400.7L350.13 1392.4L353.32 1392.4L353.32 1384.3L353.32 1399.6L353.32 1389.0L356.52 1389.0L356.52 1377.6L356.52 1393.6L356.52 1385.1L359.72 1385.1L359.72 1375.9L359.72 1392.6L359.72 1384.2L362.92 1384.2L362.92 1373.9L362.92 1399.1L362.92 1386.8L366.11 1386.8L366.11 1374.5L366.11 1404.7L366.11 1390.0L369.31 1390.0L369.31 1375.2L369.31 1404.7L369.31 1391.6L372.51 1391.6L372.51 1378.5L372.51 1404.7L372.51 1393.2L375.71 1393.2L375.71 1381.8L375.71 1404.7L375.71 1391.0L378.90 1391.0L378.90 1380.1L378.90 1400.3L378.90 1389.2L382.10 1389.2L382.10 1380.9L382.10 1397.4L382.10 1391.3L385.30 1391.3L385.30 1385.3L385.30 1400.3L385.30 1391.8L388.50 1391.8L388.50 1379.8L388.50 1398.4L388.50 1389.1L391.69 1389.1L391.69 1376.3L391.69 1400.0L391.69 1388.1L394.89 1388.1L394.89 1376.3L394.89 1404.2L394.89 1390.1L398.09 1390.1L398.09 1376.3L398.09 1404.0L398.09 1390.2L401.29 1390.2L401.29 1376.4L401.29 1405.3L401.29 1395.6L404.48 1395.6L404.48 1385.8L404.48 1407.3L404.48 1397.6L407.68 1397.6L407.68 1387.9L407.68 1409.6L407.68 1399.1L410.88 1399.1L410.88 1388.6L410.88 1411.2L410.88 1399.9L414.07 1399.9L414.07 1387.4L414.07 1411.2L414.07 1400.7L417.27 1400.7L417.27 1392.9L417.27 1408.5L417.27 1401.5L420.47 1401.5L420.47 1395.8L420.47 1407.2L420.47 1402.0L423.67 1402.0L423.67 1396.8L423.67 1408.1L423.67 1402.9L426.87 1402.9L426.87 1397.6L426.87 1420.0L426.87 1408.8L430.06 1408.8L430.06 1396.9L430.06 1424.2L430.06 1410.9L433.26 1410.9L433.26 1398.9L433.26 1423.0L433.26 1409.2L436.46 1409.2L436.46 1400.2L436.46 1418.2L436.46 1408.7L439.66 1408.7L439.66 1399.8L439.66 1417.2L439.66 1407.7L442.85 1407.7L442.85 1395.0L442.85 1415.6L442.85 1405.1L446.05 1405.1L446.05 1395.8L446.05 1414.4L446.05 1406.8L449.25 1406.8L449.25 1399.2L449.25 1415.8L449.25 1407.8L452.44 1407.8L452.44 1399.8L452.44 1416.2L452.44 1407.1L455.64 1407.1L455.64 1400.8L455.64 1413.3L455.64 1404.1L458.84 1404.1L458.84 1381.3L458.84 1407.3L458.84 1394.2L462.04 1394.2L462.04 1380.4L462.04 1407.2L462.04 1396.5L465.24 1396.5L465.24 1386.3L465.24 1406.7L465.24 1400.4L468.43 1400.4L468.43 1394.2L468.43 1411.5L468.43 1404.7L471.63 1404.7L471.63 1398.0L471.63 1414.1L471.63 1408.6L474.83 1408.6L474.83 1403.1L474.83 1416.1L474.83 1409.6L478.03 1409.6L478.03 1393.4L478.03 1421.7L478.03 1407.6L481.22 1407.6L481.22 1393.4L481.22 1431.6L481.22 1425.1L484.42 1425.1L484.42 1418.6L484.42 1434.1L484.42 1427.2L487.62 1427.2L487.62 1420.9L487.62 1433.5L487.62 1425.9L490.82 1425.9L490.82 1418.3L490.82 1430.9L490.82 1424.6L494.01 1424.6L494.01 1416.1L494.01 1431.1L494.01 1425.0L497.21 1425.0L497.21 1419.0L497.21 1432.2L497.21 1426.6L500.41 1426.6L500.41 1420.9L500.41 1438.4L500.41 1429.7L503.61 1429.7L503.61 1418.8L503.61 1441.0L503.61 1429.9L506.80 1429.9L506.80 1418.7L506.80 1444.3L506.80 1430.2L510.00 1430.2L510.00 1416.7L510.00 1441.8L510.00 1427.9L513.20 1427.9L513.20 1416.7L513.20 1439.0L513.20 1428.2L516.39 1428.2L516.39 1419.4L516.39 1437.0L516.39 1428.7L519.59 1428.7L519.59 1420.3L519.59 1445.1L519.59 1430.3L522.79 1430.3L522.79 1420.5L522.79 1440.1L522.79 1428.2L525.99 1428.2L525.99 1421.5L525.99 1434.9L525.99 1432.3L529.19 1432.3L529.19 1429.7L529.19 1435.4L529.19 1432.6L532.38 1432.6L532.38 1427.6L532.38 1439.8L532.38 1433.7L535.58 1433.7L535.58 1426.5L535.58 1446.5L535.58 1437.2L538.78 1437.2L538.78 1428.0L538.78 1453.5L538.78 1443.2L541.98 1443.2L541.98 1433.0L541.98 1454.9L541.98 1441.2L545.17 1441.2L545.17 1423.9L545.17 1449.5L545.17 1434.0L548.37 1434.0L548.37 1420.0L548.37 1444.2L548.37 1429.9L551.57 1429.9L551.57 1421.6L551.57 1438.2L551.57 1431.5L554.77 1431.5L554.77 1426.5L554.77 1436.4L554.77 1430.9L557.96 1430.9L557.96 1420.0L557.96 1435.4L557.96 1428.0L561.16 1428.0L561.16 1420.6L561.16 1437.1L561.16 1432.6L564.36 1432.6L564.36 1428.1L564.36 1452.6L564.36 1444.2L567.56 1444.2L567.56 1435.8L567.56 1465.4L567.56 1452.3L570.75 1452.3L570.75 1440.0L570.75 1464.5L570.75 1445.0L573.95 1445.0L573.95 1440.0L573.95 1450.0L573.95 1445.7L577.15 1445.7L577.15 1441.4L577.15 1458.1L577.15 1450.4L580.35 1450.4L580.35 1442.7L580.35 1467.8L580.35 1450.7L583.54 1450.7L583.54 1415.2L583.54 1458.6L583.54 1424.8L586.74 1424.8L586.74 1403.0L586.74 1434.3L586.74 1418.7L589.94 1418.7L589.94 1403.0L589.94 1435.4L589.94 1422.9L593.14 1422.9L593.14 1410.5L593.14 1442.7L593.14 1437.8L596.33 1437.8L596.33 1432.9L596.33 1459.6L596.33 1454.5L599.53 1454.5L599.53 1449.4L599.53 1464.6L599.53 1457.2L602.73 1457.2L602.73 1450.8L602.73 1463.7L602.73 1455.6L605.93 1455.6L605.93 1444.9L605.93 1460.4L605.93 1448.7L609.12 1448.7L609.12 1425.0L609.12 1452.5L609.12 1433.4L612.32 1433.4L612.32 1415.1L612.32 1441.9L612.32 1428.5L615.52 1428.5L615.52 1413.5L615.52 1457.0L615.52 1444.2L618.72 1444.2L618.72 1431.5L618.72 1460.7L618.72 1451.6L621.91 1451.6L621.91 1442.7L621.91 1460.4L621.91 1451.6L625.11 1451.6L625.11 1435.5L625.11 1462.7L625.11 1449.1L628.31 1449.1L628.31 1433.0L628.31 1465.7L628.31 1449.3L631.51 1449.3L631.51 1433.0L631.51 1471.1L631.51 1444.8L634.70 1444.8L634.70 1436.3L634.70 1453.4L634.70 1445.3L637.90 1445.3L637.90 1439.8L637.90 1450.7L637.90 1444.2L641.10 1444.2L641.10 1441.1L641.10 1447.4L641.10 1441.5L644.30 1441.5L644.30 1418.5L644.30 1441.9L644.30 1430.2L647.49 1430.2L647.49 1416.7L647.49 1443.6L647.49 1433.1L650.69 1433.1L650.69 1422.6L650.69 1446.5L650.69 1437.7L653.89 1437.7L653.89 1428.9L653.89 1446.9L653.89 1438.6L657.09 1438.6L657.09 1430.4L657.09 1452.0L657.09 1443.0L660.28 1443.0L660.28 1433.9L660.28 1457.1L660.28 1445.5L663.48 1445.5L663.48 1433.8L663.48 1462.4L663.48 1448.4L666.68 1448.4L666.68 1434.5L666.68 1467.8L666.68 1449.4L669.88 1449.4L669.88 1433.2L669.88 1464.3L669.88 1441.9L673.07 1441.9L673.07 1431.0L673.07 1450.7L673.07 1440.2L676.27 1440.2L676.27 1430.4L676.27 1449.4L676.27 1437.8L679.47 1437.8L679.47 1420.9L679.47 1445.2L679.47 1429.3L682.67 1429.3L682.67 1420.0L682.67 1437.7L682.67 1433.8L685.86 1433.8L685.86 1429.8L685.86 1438.6L685.86 1436.5L689.06 1436.5L689.06 1434.3L689.06 1441.1L689.06 1438.7L692.26 1438.7L692.26 1436.4L692.26 1450.7L692.26 1446.7L695.46 1446.7L695.46 1442.7L695.46 1463.4L695.46 1453.1L698.65 1453.1L698.65 1442.8L698.65 1464.6L698.65 1445.6L701.85 1445.6L701.85 1432.0L701.85 1448.4L701.85 1440.2L705.05 1440.2L705.05 1425.3L705.05 1449.3L705.05 1437.3L708.25 1437.3L708.25 1423.2L708.25 1455.6L708.25 1441.2L711.44 1441.2L711.44 1426.7L711.44 1460.5L711.44 1444.4L714.64 1444.4L714.64 1429.7L714.64 1459.2L714.64 1442.8L717.84 1442.8L717.84 1428.6L717.84 1455.8L717.84 1438.4L721.03 1438.4L721.03 1426.5L721.03 1448.2L721.03 1434.4L724.23 1434.4L724.23 1427.0L724.23 1441.9L724.23 1439.7L727.43 1439.7L727.43 1437.5L727.43 1446.6L727.43 1444.4L730.63 1444.4L730.63 1442.2L730.63 1456.0L730.63 1449.4L733.83 1449.4L733.83 1442.7L733.83 1458.1L733.83 1449.3L737.02 1449.3L737.02 1430.4L737.02 1455.9L737.02 1437.6L740.22 1437.6L740.22 1423.2L740.22 1444.7L740.22 1433.8L743.42 1433.8L743.42 1425.3L743.42 1442.2L743.42 1437.9L746.62 1437.9L746.62 1433.9L746.62 1441.9L746.62 1438.6L749.81 1438.6L749.81 1435.3L749.81 1448.3L749.81 1443.1L753.01 1443.1L753.01 1437.9L753.01 1457.6L753.01 1447.8L756.21 1447.8L756.21 1437.8L756.21 1460.9L756.21 1451.7L759.41 1451.7L759.41 1442.6L759.41 1460.7L759.41 1453.8L762.60 1453.8L762.60 1446.8L762.60 1471.1L762.60 1459.2L765.80 1459.2L765.80 1447.3L765.80 1471.1L765.80 1453.2L769.00 1453.2L769.00 1448.2L769.00 1458.1L769.00 1453.7L772.20 1453.7L772.20 1449.3L772.20 1462.0L772.20 1455.6L775.39 1455.6L775.39 1449.2L775.39 1464.6L775.39 1457.3L778.59 1457.3L778.59 1450.9L778.59 1463.6L778.59 1456.1L781.79 1456.1L781.79 1450.5L781.79 1461.3L781.79 1456.5L784.99 1456.5L784.99 1451.7L784.99 1462.4L784.99 1457.4L788.18 1457.4L788.18 1452.4L788.18 1466.2L788.18 1459.3L791.38 1459.3L791.38 1425.1L791.38 1471.1L791.38 1446.0L794.58 1446.0L794.58 1422.2L794.58 1466.9L794.58 1439.3L797.78 1439.3L797.78 1420.0L797.78 1456.4L797.78 1440.2L800.97 1440.2L800.97 1425.5L800.97 1454.9L800.97 1445.0L804.17 1445.0L804.17 1435.1L804.17 1465.0L804.17 1452.2L807.37 1452.2L807.37 1439.4L807.37 1467.9L807.37 1453.7L810.57 1453.7L810.57 1439.4L810.57 1470.9L810.57 1455.2L813.76 1455.2L813.76 1439.0L813.76 1472.7L813.76 1450.5L816.96 1450.5L816.96 1431.8L816.96 1462.0L816.96 1440.9L820.16 1440.9L820.16 1429.7L820.16 1450.0L820.16 1439.6L823.36 1439.6L823.36 1429.7L823.36 1449.6L823.36 1442.0L826.55 1442.0L826.55 1434.4L826.55 1454.1L826.55 1446.8L829.75 1446.8L829.75 1439.6L829.75 1467.8L829.75 1455.6L832.95 1455.6L832.95 1445.9L832.95 1465.2L832.95 1454.8L836.15 1454.8L836.15 1442.4L836.15 1463.6L836.15 1448.9L839.34 1448.9L839.34 1421.5L839.34 1455.3L839.34 1436.4L842.54 1436.4L842.54 1412.7L842.54 1451.3L842.54 1433.2L845.74 1433.2L845.74 1415.1L845.74 1451.6L845.74 1440.1L848.94 1440.1L848.94 1428.6L848.94 1458.8L848.94 1444.2L852.13 1444.2L852.13 1429.6L852.13 1470.6L852.13 1452.9L855.33 1452.9L855.33 1435.2L855.33 1474.3L855.33 1456.3L858.53 1456.3L858.53 1438.3L858.53 1474.3L858.53 1450.5L861.73 1450.5L861.73 1439.7L861.73 1461.3L861.73 1452.9L864.92 1452.9L864.92 1444.5L864.92 1461.6L864.92 1455.4L868.12 1455.4L868.12 1449.2L868.12 1465.0L868.12 1457.2L871.32 1457.2L871.32 1449.3L871.32 1471.1L871.32 1454.2L874.52 1454.2L874.52 1441.1L874.52 1459.1L874.52 1444.7L877.71 1444.7L877.71 1436.2L877.71 1448.4L877.71 1443.4L880.91 1443.4L880.91 1438.4L880.91 1451.2L880.91 1446.1L884.11 1446.1L884.11 1441.1L884.11 1456.6L884.11 1448.8L887.31 1448.8L887.31 1437.6L887.31 1458.1L887.31 1445.3L890.50 1445.3L890.50 1432.3L890.50 1453.0L890.50 1440.3L893.70 1440.3L893.70 1429.1L893.70 1448.4L893.70 1438.7L896.90 1438.7L896.90 1426.5L896.90 1448.4L896.90 1440.1L900.10 1440.1L900.10 1431.9L900.10 1448.4L900.10 1442.7L903.29 1442.7L903.29 1437.1L903.29 1451.6L903.29 1444.3L906.49 1444.3L906.49 1436.3L906.49 1453.4L906.49 1447.3L909.69 1447.3L909.69 1441.1L909.69 1464.4L909.69 1455.2L912.88 1455.2L912.88 1445.9L912.88 1467.8L912.88 1452.7L916.08 1452.7L916.08 1433.0L916.08 1459.5L916.08 1442.3L919.28 1442.3L919.28 1433.0L919.28 1451.6L919.28 1446.4L922.48 1446.4L922.48 1441.1L922.48 1457.9L922.48 1450.4L925.67 1450.4L925.67 1443.0L925.67 1470.7L925.67 1456.9L928.87 1456.9L928.87 1443.0L928.87 1471.1L928.87 1456.1L932.07 1456.1L932.07 1449.2L932.07 1463.1L932.07 1452.3L935.27 1452.3L935.27 1440.0L935.27 1455.5L935.27 1447.5L938.47 1447.5L938.47 1437.0L938.47 1454.9L938.47 1446.8L941.66 1446.8L941.66 1438.8L941.66 1464.6L941.66 1453.0L944.86 1453.0L944.86 1442.7L944.86 1463.3L944.86 1450.4L948.06 1450.4L948.06 1435.7L948.06 1458.1L948.06 1446.9L951.26 1446.9L951.26 1434.5L951.26 1464.5L951.26 1449.5L954.45 1449.5L954.45 1432.2L954.45 1470.2L954.45 1451.3L957.65 1451.3L957.65 1432.5L957.65 1474.3L957.65 1440.0L960.85 1440.0L960.85 1430.9L960.85 1447.4L960.85 1436.4L964.05 1436.4L964.05 1415.6L964.05 1441.9L964.05 1428.8L967.24 1428.8L967.24 1411.9L967.24 1450.5L967.24 1431.2L970.44 1431.2L970.44 1411.9L970.44 1459.1L970.44 1445.7L973.64 1445.7L973.64 1432.2L973.64 1461.3L973.64 1447.6L976.84 1447.6L976.84 1437.2L976.84 1458.1L976.84 1448.6L980.03 1448.6L980.03 1439.0L980.03 1461.1L980.03 1451.9L983.23 1451.9L983.23 1442.7L983.23 1465.3L983.23 1454.0L986.43 1454.0L986.43 1441.0L986.43 1467.8L986.43 1452.7L989.62 1452.7L989.62 1437.8L989.62 1464.4L989.62 1451.6L992.82 1451.6L992.82 1439.4L992.82 1463.8L992.82 1453.5L996.02 1453.5L996.02 1444.3L996.02 1462.7L996.02 1449.8L999.22 1449.8L999.22 1442.8L999.22 1455.2L999.22 1447.0L1002.42 1447.0L1002.42 1429.7L1002.42 1451.2L1002.42 1439.0L1005.61 1439.0L1005.61 1420.0L1005.61 1448.4L1005.61 1433.7L1008.81 1433.7L1008.81 1421.0L1008.81 1446.4L1008.81 1436.9L1012.01 1436.9L1012.01 1427.5L1012.01 1456.4L1012.01 1442.2L1015.21 1442.2L1015.21 1427.9L1015.21 1459.7L1015.21 1446.7L1018.40 1446.7L1018.40 1433.6L1018.40 1459.9L1018.40 1449.6L1021.60 1449.6L1021.60 1439.3L1021.60 1461.6L1021.60 1452.4L1024.80 1452.4L1024.80 1443.2L1024.80 1462.9L1024.80 1453.1L1028.00 1453.1L1028.00 1442.7L1028.00 1467.8L1028.00 1452.0L1031.19 1452.0L1031.19 1435.9L1031.19 1461.4L1031.19 1444.3L1034.39 1444.3L1034.39 1432.7L1034.39 1452.7L1034.39 1442.1L1037.59 1442.1L1037.59 1430.6L1037.59 1451.6L1037.59 1441.2L1040.79 1441.2L1040.79 1430.9L1040.79 1451.6L1040.79 1441.2L1043.98 1441.2L1043.98 1417.8L1043.98 1451.9L1043.98 1434.9L1047.18 1434.9L1047.18 1416.7L1047.18 1455.8L1047.18 1439.9L1050.38 1439.9L1050.38 1423.9L1050.38 1468.1L1050.38 1450.8L1053.58 1450.8L1053.58 1433.6L1053.58 1471.1L1053.58 1450.5L1056.77 1450.5L1056.77 1434.7L1056.77 1466.2L1056.77 1445.8L1059.97 1445.8L1059.97 1434.3L1059.97 1456.9L1059.97 1446.9L1063.17 1446.9L1063.17 1437.1L1063.17 1456.8L1063.17 1449.7L1066.37 1449.7L1066.37 1442.7L1066.37 1457.4L1066.37 1446.8L1069.56 1446.8L1069.56 1436.0L1069.56 1450.9L1069.56 1440.6L1072.76 1440.6L1072.76 1425.6L1072.76 1445.1L1072.76 1435.4L1075.96 1435.4L1075.96 1423.2L1075.96 1448.4L1075.96 1435.5L1079.16 1435.5L1079.16 1425.2L1079.16 1445.7L1079.16 1437.7L1082.35 1437.7L1082.35 1433.0L1082.35 1442.4L1082.35 1435.8L1085.55 1435.8L1085.55 1416.7L1085.55 1438.6L1085.55 1427.7L1088.75 1427.7L1088.75 1416.7L1088.75 1440.2L1088.75 1431.0L1091.95 1431.0L1091.95 1421.9L1091.95 1443.3L1091.95 1437.0L1095.14 1437.0L1095.14 1430.8L1095.14 1446.7L1095.14 1439.8L1098.34 1439.8L1098.34 1433.0L1098.34 1446.7L1098.34 1438.7L1101.54 1438.7L1101.54 1431.1L1101.54 1444.5L1101.54 1436.5L1104.74 1436.5L1104.74 1427.0L1104.74 1441.9L1104.74 1434.4L1107.93 1434.4L1107.93 1423.2L1107.93 1447.7L1107.93 1439.8L1111.13 1439.8L1111.13 1432.0L1111.13 1454.3L1111.13 1451.7L1114.33 1451.7L1114.33 1449.2L1114.33 1458.6L1114.33 1453.9L1117.53 1453.9L1117.53 1448.5L1117.53 1465.7L1117.53 1457.1L1120.72 1457.1L1120.72 1447.3L1120.72 1467.8L1120.72 1452.5L1123.92 1452.5L1123.92 1436.3L1123.92 1457.7L1123.92 1442.4L1127.12 1442.4L1127.12 1428.8L1127.12 1448.4L1127.12 1438.6L1130.32 1438.6L1130.32 1423.2L1130.32 1451.6L1130.32 1436.9L1133.51 1436.9L1133.51 1424.1L1133.51 1449.6L1133.51 1441.9L1136.71 1441.9L1136.71 1435.4L1136.71 1448.4L1136.71 1444.2L1139.91 1444.2L1139.91 1440.0L1139.91 1464.6L1139.91 1456.1L1143.11 1456.1L1143.11 1447.5L1143.11 1471.9L1143.11 1458.9L1146.30 1458.9L1146.30 1447.0L1146.30 1470.2L1146.30 1454.0L1149.50 1454.0L1149.50 1441.5L1149.50 1461.0L1149.50 1449.8L1152.70 1449.8L1152.70 1433.4L1152.70 1458.1L1152.70 1445.5L1155.90 1445.5L1155.90 1433.3L1155.90 1457.6L1155.90 1445.5L1159.09 1445.5L1159.09 1424.0L1159.09 1461.3L1159.09 1435.8L1162.29 1435.8L1162.29 1415.9L1162.29 1447.7L1162.29 1428.2L1165.49 1428.2L1165.49 1415.9L1165.49 1440.5L1165.49 1434.2L1168.69 1434.2L1168.69 1429.7L1168.69 1438.6L1168.69 1434.2L1171.88 1434.2L1171.88 1420.0L1171.88 1442.2L1171.88 1431.4L1175.08 1431.4L1175.08 1420.6L1175.08 1446.9L1175.08 1438.3L1178.28 1438.3L1178.28 1429.7L1178.28 1448.6L1178.28 1439.2L1181.48 1439.2L1181.48 1426.7L1181.48 1451.4L1181.48 1439.0L1184.67 1439.0L1184.67 1423.2L1184.67 1451.6L1184.67 1435.2L1187.87 1435.2L1187.87 1424.7L1187.87 1445.6L1187.87 1436.5L1191.07 1436.5L1191.07 1431.3L1191.07 1441.6L1191.07 1436.2L1194.27 1436.2L1194.27 1428.0L1194.27 1441.2L1194.27 1434.0L1197.46 1434.0L1197.46 1403.0L1197.46 1439.9L1197.46 1420.8L1200.66 1420.8L1200.66 1403.0L1200.66 1438.6L1200.66 1425.2L1203.86 1425.2L1203.86 1411.8L1203.86 1444.6L1203.86 1438.8L1207.06 1438.8L1207.06 1433.0L1207.06 1447.7L1207.06 1440.3L1210.25 1440.3L1210.25 1430.0L1210.25 1448.4L1210.25 1439.4L1213.45 1439.4L1213.45 1430.5L1213.45 1448.4L1213.45 1439.4L1216.65 1439.4L1216.65 1429.0L1216.65 1448.4L1216.65 1437.6L1219.85 1437.6L1219.85 1423.9L1219.85 1446.2L1219.85 1431.3L1223.04 1431.3L1223.04 1423.2L1223.04 1438.6L1223.04 1434.2L1226.24 1434.2L1226.24 1429.7L1226.24 1443.1L1226.24 1436.4L1229.44 1436.4L1229.44 1413.5L1229.44 1446.1L1229.44 1429.8L1232.63 1429.8L1232.63 1413.5L1232.63 1451.9L1232.63 1433.5L1235.83 1433.5L1235.83 1415.2L1235.83 1463.0L1235.83 1444.6L1239.03 1444.6L1239.03 1428.8L1239.03 1460.4L1239.03 1438.0L1242.23 1438.0L1242.23 1426.6L1242.23 1447.3L1242.23 1439.2L1245.43 1439.2L1245.43 1431.2L1245.43 1448.4L1245.43 1441.2L1248.62 1441.2L1248.62 1434.2L1248.62 1448.2L1248.62 1441.2L1251.82 1441.2L1251.82 1434.3L1251.82 1450.8L1251.82 1446.2L1255.02 1446.2L1255.02 1441.5L1255.02 1453.4L1255.02 1447.5L1258.22 1447.5L1258.22 1441.1L1258.22 1456.5L1258.22 1448.8L1261.41 1448.8L1261.41 1439.6L1261.41 1458.1L1261.41 1445.0L1264.61 1445.0L1264.61 1437.6L1264.61 1450.5L1264.61 1443.4L1267.81 1443.4L1267.81 1425.1L1267.81 1449.1L1267.81 1435.3L1271.01 1435.3L1271.01 1423.2L1271.01 1445.5L1271.01 1432.6L1274.20 1432.6L1274.20 1423.2L1274.20 1441.9L1274.20 1432.6L1277.40 1432.6L1277.40 1423.2L1277.40 1457.0L1277.40 1443.1L1280.60 1443.1L1280.60 1429.3L1280.60 1459.7L1280.60 1453.1L1283.80 1453.1L1283.80 1446.4L1283.80 1461.3L1283.80 1451.8L1286.99 1451.8L1286.99 1449.2L1286.99 1454.3L1286.99 1448.8L1290.19 1448.8L1290.19 1436.3L1290.19 1448.4L1290.19 1442.4L1293.39 1442.4L1293.39 1433.9L1293.39 1448.4L1293.39 1441.1L1296.59 1441.1L1296.59 1423.9L1296.59 1448.5L1296.59 1436.2L1299.78 1436.2L1299.78 1420.0L1299.78 1452.5L1299.78 1436.4L1302.98 1436.4L1302.98 1420.3L1302.98 1454.9L1302.98 1441.7L1306.18 1441.7L1306.18 1429.8L1306.18 1453.7L1306.18 1437.4L1309.38 1437.4L1309.38 1427.8L1309.38 1445.1L1309.38 1436.5L1312.57 1436.5L1312.57 1427.8L1312.57 1446.4L1312.57 1437.1L1315.77 1437.1L1315.77 1427.8L1315.77 1457.9L1315.77 1442.8L1318.97 1442.8L1318.97 1427.7L1318.97 1464.6L1318.97 1454.7L1322.17 1454.7L1322.17 1445.9L1322.17 1463.5L1322.17 1448.2L1325.36 1448.2L1325.36 1438.1L1325.36 1450.5L1325.36 1441.4L1328.56 1441.4L1328.56 1431.1L1328.56 1444.6L1328.56 1437.0L1331.76 1437.0L1331.76 1426.5L1331.76 1443.0L1331.76 1433.9L1334.96 1433.9L1334.96 1426.5L1334.96 1441.3L1334.96 1433.4L1338.15 1433.4L1338.15 1426.5L1338.15 1440.3L1338.15 1433.4L1341.35 1433.4L1341.35 1426.5L1341.35 1440.3L1341.35 1433.4L1344.55 1433.4L1344.55 1426.5L1344.55 1440.3L1344.55 1433.4L1347.75 1433.4L1347.75 1426.5L1347.75 1440.3L1347.75 1433.8L1350.94 1433.8L1350.94 1427.4L1350.94 1441.9L1350.94 1435.8L1354.14 1435.8L1354.14 1429.6L1354.14 1451.6L1354.14 1440.1L1357.34 1440.1L1357.34 1431.0L1357.34 1449.2L1357.34 1438.0L1360.54 1438.0L1360.54 1430.3L1360.54 1445.1L1360.54 1442.3L1363.73 1442.3L1363.73 1439.4L1363.73 1449.6L1363.73 1444.5L1366.93 1444.5L1366.93 1439.1L1366.93 1453.7L1366.93 1446.4L1370.13 1446.4L1370.13 1436.2L1370.13 1456.5L1370.13 1443.9L1373.33 1443.9L1373.33 1439.4L1373.33 1448.4L1373.33 1443.9L1376.52 1443.9L1376.52 1432.9L1376.52 1451.3L1376.52 1442.1L1379.72 1442.1L1379.72 1426.5L1379.72 1454.9L1379.72 1437.5L1382.92 1437.5L1382.92 1426.5L1382.92 1448.5L1382.92 1436.8L1386.12 1436.8L1386.12 1426.5L1386.12 1447.1L1386.12 1436.8L1389.31 1436.8L1389.31 1426.5L1389.31 1447.7L1389.31 1434.9L1392.51 1434.9L1392.51 1426.5L1392.51 1443.3L1392.51 1435.5L1395.71 1435.5L1395.71 1429.2L1395.71 1441.9L1395.71 1437.4L1398.91 1437.4L1398.91 1433.0L1398.91 1445.8L1398.91 1439.4L1402.10 1439.4L1402.10 1431.8L1402.10 1448.4L1402.10 1437.3L1405.30 1437.3L1405.30 1429.9L1405.30 1442.8L1405.30 1435.8L1408.50 1435.8L1408.50 1426.8L1408.50 1441.7L1408.50 1434.1L1411.70 1434.1L1411.70 1423.4L1411.70 1441.3L1411.70 1431.0L1414.89 1431.0L1414.89 1422.4L1414.89 1438.6L1414.89 1435.7L1418.09 1435.7L1418.09 1432.7L1418.09 1443.9L1418.09 1443.3L1421.29 1443.3L1421.29 1442.6L1421.29 1454.3L1421.29 1450.1L1424.49 1450.1L1424.49 1445.9L1424.49 1464.7L1424.49 1455.3L1427.68 1455.3L1427.68 1445.0L1427.68 1469.4L1427.68 1455.9L1430.88 1455.9L1430.88 1437.1L1430.88 1466.7L1430.88 1442.4L1434.08 1442.4L1434.08 1427.5L1434.08 1447.7L1434.08 1435.1L1437.28 1435.1L1437.28 1418.5L1437.28 1442.7L1437.28 1430.2L1440.47 1430.2L1440.47 1416.7L1440.47 1441.9L1440.47 1429.5L1443.67 1429.5L1443.67 1417.2L1443.67 1443.0L1443.67 1432.3L1446.87 1432.3L1446.87 1421.6L1446.87 1448.5L1446.87 1439.1L1450.07 1439.1L1450.07 1429.6L1450.07 1454.2L1450.07 1445.2L1453.26 1445.2L1453.26 1436.2L1453.26 1455.3L1453.26 1447.4L1456.46 1447.4L1456.46 1439.4L1456.46 1458.0L1456.46 1448.7L1459.66 1448.7L1459.66 1438.3L1459.66 1461.3L1459.66 1449.0L1462.86 1449.0L1462.86 1435.5L1462.86 1459.7L1462.86 1439.0L1466.05 1439.0L1466.05 1433.4L1466.05 1442.5L1466.05 1436.7L1469.25 1436.7L1469.25 1418.0L1469.25 1440.0L1469.25 1428.3L1472.45 1428.3L1472.45 1416.7L1472.45 1438.6L1472.45 1432.2L1475.65 1432.2L1475.65 1425.7L1475.65 1441.0L1475.65 1437.4L1478.84 1437.4L1478.84 1433.8L1478.84 1455.7L1478.84 1444.7L1482.04 1444.7L1482.04 1433.8L1482.04 1456.5L1482.04 1443.3L1485.24 1443.3L1485.24 1433.8L1485.24 1452.8L1485.24 1439.9L1488.44 1439.9L1488.44 1423.8L1488.44 1446.1L1488.44 1429.6L1491.63 1429.6L1491.63 1420.0L1491.63 1435.4L1491.63 1427.7L1494.83 1427.7L1494.83 1420.0L1494.83 1457.5L1494.83 1447.6L1498.03 1447.6L1498.03 1437.7L1498.03 1467.8L1498.03 1452.6L1501.23 1452.6L1501.23 1444.3L1501.23 1460.9L1501.23 1451.6L1504.42 1451.6L1504.42 1443.1L1504.42 1458.9L1504.42 1449.2L1507.62 1449.2L1507.62 1426.9L1507.62 1455.4L1507.62 1441.1L1510.82 1441.1L1510.82 1423.8L1510.82 1455.3L1510.82 1438.5L1514.02 1438.5L1514.02 1420.0L1514.02 1453.3L1514.02 1443.6L1517.21 1443.6L1517.21 1434.0L1517.21 1456.0L1517.21 1443.5L1520.41 1443.5L1520.41 1433.5L1520.41 1453.1L1520.41 1440.9L1523.61 1440.9L1523.61 1433.3L1523.61 1448.4L1523.61 1441.4L1526.81 1441.4L1526.81 1434.4L1526.81 1451.6L1526.81 1442.7L1530.00 1442.7L1530.00 1436.1L1530.00 1449.3L1530.00 1441.2L1533.20 1441.2L1533.20 1437.2L1533.20 1445.1L1533.20 1442.2L1536.40 1442.2L1536.40 1439.4L1536.40 1453.4L1536.40 1447.8L1539.60 1447.8L1539.60 1442.1L1539.60 1460.1L1539.60 1451.4L1542.79 1451.4L1542.79 1442.7L1542.79 1464.6L1542.79 1444.3L1545.99 1444.3L1545.99 1433.8L1545.99 1445.9L1545.99 1437.8L1549.19 1437.8L1549.19 1429.1L1549.19 1441.9L1549.19 1435.5L1552.39 1435.5L1552.39 1427.3L1552.39 1445.3L1552.39 1437.4L1555.58 1437.4L1555.58 1429.5L1555.58 1449.3L1555.58 1445.0L1558.78 1445.0L1558.78 1440.6L1558.78 1454.9L1558.78 1448.0L1561.98 1448.0L1561.98 1441.1L1561.98 1457.0L1561.98 1449.0L1565.18 1449.0L1565.18 1440.5L1565.18 1466.2L1565.18 1451.2L1568.37 1451.2L1568.37 1436.9L1568.37 1461.9L1568.37 1445.7L1571.57 1445.7L1571.57 1434.7L1571.57 1454.6L1571.57 1442.6L1574.77 1442.6L1574.77 1432.7L1574.77 1450.5L1574.77 1441.2L1577.97 1441.2L1577.97 1430.7L1577.97 1449.6L1577.97 1439.6L1581.16 1439.6L1581.16 1426.2L1581.16 1448.4L1581.16 1437.0L1584.36 1437.0L1584.36 1423.8L1584.36 1447.7L1584.36 1433.1L1587.56 1433.1L1587.56 1424.3L1587.56 1441.9L1587.56 1431.5L1590.76 1431.5L1590.76 1409.4L1590.76 1438.6L1590.76 1424.0L1593.95 1424.0L1593.95 1409.4L1593.95 1438.6L1593.95 1424.2L1597.15 1424.2L1597.15 1409.8L1597.15 1438.6L1597.15 1431.6L1600.35 1431.6L1600.35 1424.5L1600.35 1438.7L1600.35 1431.6L1603.55 1431.6L1603.55 1424.4L1603.55 1446.6L1603.55 1438.8L1606.74 1438.8L1606.74 1431.0L1606.74 1449.7L1606.74 1444.6L1609.94 1444.6L1609.94 1439.4L1609.94 1453.9L1609.94 1448.3L1613.14 1448.3L1613.14 1442.7L1613.14 1457.5L1613.14 1450.1L1616.34 1450.1L1616.34 1442.7L1616.34 1467.6L1616.34 1455.1L1619.53 1455.1L1619.53 1441.2L1619.53 1471.1L1619.53 1448.0L1622.73 1448.0L1622.73 1432.7L1622.73 1454.9L1622.73 1443.8L1625.93 1443.8L1625.93 1424.6L1625.93 1457.0L1625.93 1440.8L1629.12 1440.8L1629.12 1420.8L1629.12 1461.4L1629.12 1441.1L1632.32 1441.1L1632.32 1420.8L1632.32 1462.7L1632.32 1452.6L1635.52 1452.6L1635.52 1442.4L1635.52 1464.6L1635.52 1448.2L1638.72 1448.2L1638.72 1442.7L1638.72 1453.8L1638.72 1445.5L1641.92 1445.5L1641.92 1440.0L1641.92 1448.4L1641.92 1444.2L1645.11 1444.2L1645.11 1436.3L1645.11 1448.4L1645.11 1442.3L1648.31 1442.3L1648.31 1433.5L1648.31 1449.0L1648.31 1441.3L1651.51 1441.3L1651.51 1433.0L1651.51 1452.9L1651.51 1446.9L1654.71 1446.9L1654.71 1440.9L1654.71 1453.5L1654.71 1449.7L1657.90 1449.7L1657.90 1445.9L1657.90 1454.2L1657.90 1450.1L1661.10 1450.1L1661.10 1437.3L1661.10 1454.3L1661.10 1445.8L1664.30 1445.8L1664.30 1426.5L1664.30 1454.3L1664.30 1440.4L1667.50 1440.4L1667.50 1426.5L1667.50 1455.5L1667.50 1445.9L1670.69 1445.9L1670.69 1436.2L1670.69 1461.3L1670.69 1444.8L1673.89 1444.8L1673.89 1432.7L1673.89 1453.5L1673.89 1440.2L1677.09 1440.2L1677.09 1426.4L1677.09 1447.6L1677.09 1435.8L1680.29 1435.8L1680.29 1423.2L1680.29 1445.1L1680.29 1434.2L1683.48 1434.2L1683.48 1423.2L1683.48 1446.0L1683.48 1439.3L1686.68 1439.3L1686.68 1432.5L1686.68 1448.4L1686.68 1438.0L1689.88 1438.0L1689.88 1433.0L1689.88 1443.1L1689.88 1436.7L1693.08 1436.7L1693.08 1431.8L1693.08 1440.5L1693.08 1434.7L1696.27 1434.7L1696.27 1426.9L1696.27 1437.7L1696.27 1429.5L1699.47 1429.5L1699.47 1420.0L1699.47 1432.2L1699.47 1426.1L1702.67 1426.1L1702.67 1416.7L1702.67 1434.4L1702.67 1426.8L1705.87 1426.8L1705.87 1419.1L1705.87 1442.6L1705.87 1439.0L1709.06 1439.0L1709.06 1435.4L1709.06 1451.4L1709.06 1450.3L1712.26 1450.3L1712.26 1449.2L1712.26 1457.2L1712.26 1453.2L1715.46 1453.2L1715.46 1433.8L1715.46 1461.3L1715.46 1446.7L1718.65 1446.7L1718.65 1426.5L1718.65 1459.5L1718.65 1442.3L1721.85 1442.3L1721.85 1426.5L1721.85 1458.1L1721.85 1447.0L1725.05 1447.0L1725.05 1435.9L1725.05 1464.6L1725.05 1451.1L1728.25 1451.1L1728.25 1439.4L1728.25 1462.8L1728.25 1445.9L1731.44 1445.9L1731.44 1440.0L1731.44 1451.9L1731.44 1443.8L1734.64 1443.8L1734.64 1425.7L1734.64 1447.7L1734.64 1435.4L1737.84 1435.4L1737.84 1420.0L1737.84 1445.1L1737.84 1432.6L1741.04 1432.6L1741.04 1420.0L1741.04 1447.3L1741.04 1436.5L1744.23 1436.5L1744.23 1425.8L1744.23 1451.3L1744.23 1440.8L1747.43 1440.8L1747.43 1430.3L1747.43 1453.8L1747.43 1445.6L1750.63 1445.6L1750.63 1437.5L1750.63 1456.0L1750.63 1451.0L1753.83 1451.0L1753.83 1446.0L1753.83 1469.0L1753.83 1459.1L1757.02 1459.1L1757.02 1449.2L1757.02 1474.3L1757.02 1461.7L1760.22 1461.7L1760.22 1444.8L1760.22 1474.3L1760.22 1454.8L1763.42 1454.8L1763.42 1442.7L1763.42 1464.8L1763.42 1457.7L1766.62 1457.7L1766.62 1450.8L1766.62 1464.6" stroke-width="4.1" stroke-linejoin="bevel" stroke-linecap="butt"/>
</g>
<g transform="scale(1.2 1)" fill="none" stroke="#0000ff">
<path d="M222.33 1057.1L241.67 1320.0L249.58 1409.0L251.00 1409.0" stroke-width="6.0" stroke-linejoin="round" stroke-linecap="butt"/>
<path d="M251.00 1409.0L251.00 1397.5L251.00 1412.0L251.00 1400.7L254.20 1400.7L254.20 1397.0L254.20 1404.0L254.20 1399.4L257.40 1399.4L257.40 1398.2L257.40 1400.7L257.40 1399.1L260.60 1399.1L260.60 1388.4L260.60 1400.0L260.60 1394.2L263.79 1394.2L263.79 1383.6L263.79 1405.3L263.79 1394.5L266.99 1394.5L266.99 1383.6L266.99 1423.9L266.99 1413.8L270.19 1413.8L270.19 1403.8L270.19 1430.6L270.19 1427.2L273.39 1427.2L273.39 1423.9L273.39 1433.2L273.39 1428.8L276.58 1428.8L276.58 1424.3L276.58 1434.5L276.58 1429.4L279.78 1429.4L279.78 1424.2L279.78 1435.3L279.78 1438.4L282.98 1438.4L282.98 1441.4L282.98 1454.8L282.98 1448.3L286.18 1448.3L286.18 1441.8L286.18 1460.7L286.18 1452.8L289.37 1452.8L289.37 1444.9L289.37 1460.7L289.37 1453.4L292.57 1453.4L292.57 1448.5L292.57 1458.3L292.57 1452.1L295.77 1452.1L295.77 1416.9L295.77 1455.8L295.77 1443.1L298.97 1443.1L298.97 1430.4L298.97 1472.8L298.97 1455.2L302.16 1455.2L302.16 1440.4L302.16 1469.9L302.16 1452.0L305.36 1452.0L305.36 1441.2L305.36 1462.8L305.36 1450.6L308.56 1450.6L308.56 1438.7L308.56 1459.9L308.56 1448.8L311.75 1448.8L311.75 1436.3L311.75 1459.0L311.75 1447.5L314.95 1447.5L314.95 1436.3L314.95 1458.8L314.95 1456.4L318.15 1456.4L318.15 1454.0L318.15 1483.5L318.15 1477.3L321.35 1477.3L321.35 1471.2L321.35 1488.2L321.35 1481.9L324.55 1481.9L324.55 1476.1L324.55 1487.7L324.55 1481.9L327.74 1481.9L327.74 1436.3L327.74 1494.2L327.74 1473.8L330.94 1473.8L330.94 1453.4L330.94 1497.2L330.94 1487.4L334.14 1487.4L334.14 1477.7L334.14 1504.5L334.14 1491.1L337.34 1491.1L337.34 1475.0L337.34 1508.5L337.34 1488.2L340.53 1488.2L340.53 1442.7L340.53 1501.5L340.53 1462.2L343.73 1462.2L343.73 1439.6L343.73 1481.7L343.73 1465.0L346.93 1465.0L346.93 1448.3L346.93 1505.3L346.93 1488.8L350.13 1488.8L350.13 1472.2L350.13 1519.0L350.13 1496.5L353.32 1496.5L353.32 1476.1L353.32 1517.0L353.32 1487.8L356.52 1487.8L356.52 1452.5L356.52 1499.5L356.52 1472.5L359.72 1472.5L359.72 1453.5L359.72 1491.5L359.72 1486.2L362.92 1486.2L362.92 1481.0L362.92 1498.8L362.92 1490.1L366.11 1490.1L366.11 1482.5L366.11 1497.6L366.11 1482.1L369.31 1482.1L369.31 1436.3L369.31 1481.6L369.31 1454.3L372.51 1454.3L372.51 1436.5L372.51 1472.0L372.51 1463.6L375.71 1463.6L375.71 1455.2L375.71 1495.5L375.71 1479.1L378.90 1479.1L378.90 1462.8L378.90 1512.5L378.90 1501.4L382.10 1501.4L382.10 1490.6L382.10 1512.2L382.10 1492.7L385.30 1492.7L385.30 1486.9L385.30 1494.7L385.30 1490.8L388.50 1490.8L388.50 1480.1L388.50 1495.6L388.50 1488.4L391.69 1488.4L391.69 1481.1L391.69 1507.9L391.69 1504.8L394.89 1504.8L394.89 1501.6L394.89 1508.7L394.89 1508.9L398.09 1508.9L398.09 1509.1L398.09 1533.8L398.09 1522.5L401.29 1522.5L401.29 1511.3L401.29 1535.2L401.29 1521.8L404.48 1521.8L404.48 1512.0L404.48 1531.6L404.48 1521.6L407.68 1521.6L407.68 1515.4L407.68 1527.9L407.68 1521.6L410.88 1521.6L410.88 1515.0L410.88 1528.3L410.88 1521.1L414.07 1521.1L414.07 1515.0L414.07 1527.3L414.07 1516.8L417.27 1516.8L417.27 1513.5L417.27 1518.6L417.27 1516.0L420.47 1516.0L420.47 1512.0L420.47 1518.5L420.47 1514.4L423.67 1514.4L423.67 1490.2L423.67 1516.8L423.67 1495.7L426.87 1495.7L426.87 1476.9L426.87 1501.2L426.87 1489.0L430.06 1489.0L430.06 1476.9L430.06 1518.9L430.06 1500.9L433.26 1500.9L433.26 1482.9L433.26 1520.9L433.26 1507.0L436.46 1507.0L436.46 1493.1L436.46 1524.9L436.46 1509.8L439.66 1509.8L439.66 1494.7L439.66 1534.8L439.66 1514.7L442.85 1514.7L442.85 1494.7L442.85 1535.2L442.85 1513.2L446.05 1513.2L446.05 1491.3L446.05 1531.7L446.05 1506.7L449.25 1506.7L449.25 1488.0L449.25 1522.1L449.25 1505.0L452.44 1505.0L452.44 1471.9L452.44 1523.2L452.44 1487.4L455.64 1487.4L455.64 1469.6L455.64 1502.8L455.64 1491.3L458.84 1491.3L458.84 1479.9L458.84 1544.7L458.84 1516.0L462.04 1516.0L462.04 1487.3L462.04 1545.0L462.04 1520.9L465.24 1520.9L465.24 1501.9L465.24 1539.8L465.24 1524.3L468.43 1524.3L468.43 1515.6L468.43 1533.0L468.43 1525.2L471.63 1525.2L471.63 1519.8L471.63 1530.5L471.63 1522.1L474.83 1522.1L474.83 1484.0L474.83 1524.4L474.83 1502.3L478.03 1502.3L478.03 1480.1L478.03 1520.6L478.03 1514.7L481.22 1514.7L481.22 1508.7L481.22 1523.0L481.22 1519.8L484.42 1519.8L484.42 1516.6L484.42 1535.7L484.42 1526.2L487.62 1526.2L487.62 1499.8L487.62 1541.7L487.62 1511.1L490.82 1511.1L490.82 1489.8L490.82 1522.3L490.82 1507.7L494.01 1507.7L494.01 1493.0L494.01 1530.8L494.01 1518.7L497.21 1518.7L497.21 1506.5L497.21 1538.9L497.21 1525.3L500.41 1525.3L500.41 1511.7L500.41 1541.7L500.41 1523.6L503.61 1523.6L503.61 1482.3L503.61 1535.6L503.61 1496.6L506.80 1496.6L506.80 1478.7L506.80 1511.0L506.80 1494.8L510.00 1494.8L510.00 1474.8L510.00 1512.2L510.00 1490.1L513.20 1490.1L513.20 1459.6L513.20 1505.4L513.20 1475.1L516.39 1475.1L516.39 1450.4L516.39 1490.5L516.39 1470.5L519.59 1470.5L519.59 1445.9L519.59 1495.1L519.59 1470.5L522.79 1470.5L522.79 1445.9L522.79 1507.5L522.79 1482.4L525.99 1482.4L525.99 1457.3L525.99 1521.8L525.99 1512.6L529.19 1512.6L529.19 1503.3L529.19 1526.1L529.19 1515.8L532.38 1515.8L532.38 1505.4L532.38 1530.2L532.38 1518.5L535.58 1518.5L535.58 1506.8L535.58 1533.4L535.58 1520.6L538.78 1520.6L538.78 1507.8L538.78 1538.7L538.78 1529.6L541.98 1529.6L541.98 1520.5L541.98 1544.0L541.98 1532.3L545.17 1532.3L545.17 1498.9L545.17 1544.0L545.17 1516.8L548.37 1516.8L548.37 1479.4L548.37 1534.8L548.37 1501.2L551.57 1501.2L551.57 1476.7L551.57 1523.0L551.57 1512.5L554.77 1512.5L554.77 1502.1L554.77 1528.6L554.77 1517.0L557.96 1517.0L557.96 1507.5L557.96 1526.5L557.96 1514.2L561.16 1514.2L561.16 1488.8L561.16 1520.8L561.16 1501.5L564.36 1501.5L564.36 1473.5L564.36 1514.2L564.36 1494.5L567.56 1494.5L567.56 1475.8L567.56 1513.2L567.56 1508.3L570.75 1508.3L570.75 1503.4L570.75 1534.5L570.75 1521.0L573.95 1521.0L573.95 1507.5L573.95 1538.0L573.95 1522.8L577.15 1522.8L577.15 1505.8L577.15 1539.2L577.15 1516.3L580.35 1516.3L580.35 1501.9L580.35 1526.8L580.35 1504.6L583.54 1504.6L583.54 1498.7L583.54 1507.4L583.54 1502.7L586.74 1502.7L586.74 1462.9L586.74 1506.7L586.74 1484.8L589.94 1484.8L589.94 1462.9L589.94 1512.2L589.94 1506.9L593.14 1506.9L593.14 1501.6L593.14 1529.7L593.14 1519.5L596.33 1519.5L596.33 1509.2L596.33 1543.2L596.33 1526.1L599.53 1526.1L599.53 1503.1L599.53 1543.0L599.53 1511.4L602.73 1511.4L602.73 1492.9L602.73 1519.7L602.73 1507.8L605.93 1507.8L605.93 1495.9L605.93 1534.9L605.93 1525.3L609.12 1525.3L609.12 1515.6L609.12 1543.6L609.12 1530.1L612.32 1530.1L612.32 1516.6L612.32 1545.6L612.32 1527.9L615.52 1527.9L615.52 1506.6L615.52 1539.2L615.52 1511.9L618.72 1511.9L618.72 1502.1L618.72 1517.2L618.72 1506.7L621.91 1506.7L621.91 1479.4L621.91 1511.3L621.91 1495.4L625.11 1495.4L625.11 1470.9L625.11 1511.9L625.11 1492.5L628.31 1492.5L628.31 1473.1L628.31 1513.2L628.31 1492.9L631.51 1492.9L631.51 1466.9L631.51 1512.8L631.51 1479.3L634.70 1479.3L634.70 1457.9L634.70 1491.8L634.70 1472.3L637.90 1472.3L637.90 1455.7L637.90 1486.8L637.90 1471.5L641.10 1471.5L641.10 1458.2L641.10 1484.7L641.10 1471.9L644.30 1471.9L644.30 1459.7L644.30 1484.0L644.30 1492.0L647.49 1492.0L647.49 1500.1L647.49 1543.7L647.49 1521.9L650.69 1521.9L650.69 1497.8L650.69 1544.8L650.69 1513.9L653.89 1513.9L653.89 1495.9L653.89 1530.0L653.89 1505.4L657.09 1505.4L657.09 1484.0L657.09 1514.8L657.09 1498.8L660.28 1498.8L660.28 1480.0L660.28 1513.7L660.28 1497.8L663.48 1497.8L663.48 1481.9L663.48 1542.2L663.48 1519.7L666.68 1519.7L666.68 1497.3L666.68 1542.4L666.68 1519.6L669.88 1519.6L669.88 1504.3L669.88 1534.8L669.88 1514.0L673.07 1514.0L673.07 1504.1L673.07 1523.6L673.07 1513.6L676.27 1513.6L676.27 1470.2L676.27 1523.2L676.27 1493.5L679.47 1493.5L679.47 1467.0L679.47 1516.8L679.47 1490.1L682.67 1490.1L682.67 1473.5L682.67 1506.7L682.67 1493.6L685.86 1493.6L685.86 1480.5L685.86 1515.6L685.86 1504.9L689.06 1504.9L689.06 1494.3L689.06 1537.8L689.06 1526.0L692.26 1526.0L692.26 1514.2L692.26 1540.3L692.26 1528.6L695.46 1528.6L695.46 1516.8L695.46 1545.6L695.46 1532.3L698.65 1532.3L698.65 1519.5L698.65 1545.1L698.65 1526.1L701.85 1526.1L701.85 1518.4L701.85 1532.7L701.85 1526.4L705.05 1526.4L705.05 1520.1L705.05 1535.4L705.05 1529.6L708.25 1529.6L708.25 1523.8L708.25 1537.5L708.25 1527.9L711.44 1527.9L711.44 1489.7L711.44 1532.0L711.44 1505.1L714.64 1505.1L714.64 1493.8L714.64 1516.5L714.64 1506.9L717.84 1506.9L717.84 1497.4L717.84 1522.7L717.84 1510.7L721.03 1510.7L721.03 1498.7L721.03 1537.5L721.03 1521.6L724.23 1521.6L724.23 1507.5L724.23 1535.7L724.23 1519.2L727.43 1519.2L727.43 1497.0L727.43 1530.9L727.43 1513.7L730.63 1513.7L730.63 1493.2L730.63 1530.5L730.63 1509.3L733.83 1509.3L733.83 1490.4L733.83 1525.4L733.83 1505.9L737.02 1505.9L737.02 1486.8L737.02 1521.3L737.02 1504.1L740.22 1504.1L740.22 1484.8L740.22 1522.1L740.22 1504.4L743.42 1504.4L743.42 1486.7L743.42 1529.8L743.42 1515.4L746.62 1515.4L746.62 1501.1L746.62 1532.7L746.62 1509.0L749.81 1509.0L749.81 1476.6L749.81 1516.9L749.81 1491.7L753.01 1491.7L753.01 1473.5L753.01 1506.7L753.01 1490.1L756.21 1490.1L756.21 1473.5L756.21 1523.3L756.21 1520.8L759.41 1520.8L759.41 1518.2L759.41 1537.2L759.41 1528.9L762.60 1528.9L762.60 1520.5L762.60 1542.4L762.60 1529.9L765.80 1529.9L765.80 1484.0L765.80 1539.3L765.80 1503.1L769.00 1503.1L769.00 1470.2L769.00 1522.2L769.00 1488.9L772.20 1488.9L772.20 1471.1L772.20 1506.7L772.20 1499.0L775.39 1499.0L775.39 1491.2L775.39 1534.3L775.39 1512.9L778.59 1512.9L778.59 1493.7L778.59 1532.2L778.59 1505.5L781.79 1505.5L781.79 1494.6L781.79 1516.5L781.79 1505.5L784.99 1505.5L784.99 1493.5L784.99 1518.3L784.99 1505.9L788.18 1505.9L788.18 1490.3L788.18 1520.3L788.18 1505.3L791.38 1505.3L791.38 1489.7L791.38 1525.2L791.38 1510.5L794.58 1510.5L794.58 1495.9L794.58 1525.9L794.58 1513.5L797.78 1513.5L797.78 1501.1L797.78 1528.0L797.78 1515.3L800.97 1515.3L800.97 1502.5L800.97 1534.6L800.97 1518.5L804.17 1518.5L804.17 1492.9L804.17 1541.4L804.17 1519.8L807.37 1519.8L807.37 1498.3L807.37 1541.4L807.37 1519.8L810.57 1519.8L810.57 1497.8L810.57 1541.6L810.57 1519.7L813.76 1519.7L813.76 1497.2L813.76 1545.6L813.76 1521.4L816.96 1521.4L816.96 1492.0L816.96 1545.6L816.96 1510.2L820.16 1510.2L820.16 1464.4L820.16 1528.3L820.16 1482.3L823.36 1482.3L823.36 1459.7L823.36 1500.3L823.36 1488.5L826.55 1488.5L826.55 1476.7L826.55 1519.1L826.55 1511.5L829.75 1511.5L829.75 1503.8L829.75 1529.1L829.75 1521.6L832.95 1521.6L832.95 1514.1L832.95 1532.6L832.95 1524.9L836.15 1524.9L836.15 1517.3L836.15 1534.3L836.15 1525.8L839.34 1525.8L839.34 1515.2L839.34 1534.3L839.34 1516.9L842.54 1516.9L842.54 1503.3L842.54 1518.7L842.54 1508.6L845.74 1508.6L845.74 1489.7L845.74 1513.9L845.74 1501.1L848.94 1501.1L848.94 1471.4L848.94 1512.6L848.94 1491.0L852.13 1491.0L852.13 1471.3L852.13 1510.6L852.13 1490.6L855.33 1490.6L855.33 1469.8L855.33 1509.9L855.33 1489.7L858.53 1489.7L858.53 1467.6L858.53 1509.5L858.53 1483.9L861.73 1483.9L861.73 1460.5L861.73 1500.3L861.73 1483.1L864.92 1483.1L864.92 1466.0L864.92 1531.9L864.92 1504.2L868.12 1504.2L868.12 1476.5L868.12 1538.5L868.12 1523.0L871.32 1523.0L871.32 1507.5L871.32 1540.8L871.32 1523.6L874.52 1523.6L874.52 1489.7L874.52 1539.6L874.52 1514.6L877.71 1514.6L877.71 1489.7L877.71 1543.7L877.71 1521.7L880.91 1521.7L880.91 1499.7L880.91 1548.9L880.91 1535.3L884.11 1535.3L884.11 1524.3L884.11 1546.4L884.11 1534.3L887.31 1534.3L887.31 1524.0L887.31 1544.4L887.31 1535.2L890.50 1535.2L890.50 1526.3L890.50 1544.0L890.50 1535.5L893.70 1535.5L893.70 1527.0L893.70 1552.7L893.70 1540.4L896.90 1540.4L896.90 1528.1L896.90 1555.4L896.90 1541.7L900.10 1541.7L900.10 1491.9L900.10 1555.4L900.10 1507.4L903.29 1507.4L903.29 1475.2L903.29 1523.0L903.29 1499.1L906.49 1499.1L906.49 1462.9L906.49 1529.9L906.49 1498.3L909.69 1498.3L909.69 1466.8L909.69 1540.3L909.69 1520.7L912.88 1520.7L912.88 1501.1L912.88 1548.9L912.88 1525.0L916.08 1525.0L916.08 1495.3L916.08 1548.9L916.08 1509.1L919.28 1509.1L919.28 1489.7L919.28 1523.0L919.28 1506.3L922.48 1506.3L922.48 1489.7L922.48 1529.2L922.48 1521.6L925.67 1521.6L925.67 1514.0L925.67 1531.1L925.67 1520.4L928.87 1520.4L928.87 1492.7L928.87 1526.8L928.87 1505.8L932.07 1505.8L932.07 1483.2L932.07 1518.8L932.07 1501.6L935.27 1501.6L935.27 1484.3L935.27 1519.7L935.27 1504.4L938.47 1504.4L938.47 1489.8L938.47 1519.0L938.47 1503.9L941.66 1503.9L941.66 1488.1L941.66 1518.1L941.66 1501.7L944.86 1501.7L944.86 1479.9L944.86 1515.3L944.86 1495.6L948.06 1495.6L948.06 1466.2L948.06 1511.2L948.06 1488.7L951.26 1488.7L951.26 1466.2L951.26 1511.6L951.26 1496.6L954.45 1496.6L954.45 1481.6L954.45 1511.6L954.45 1496.6L957.65 1496.6L957.65 1470.2L957.65 1511.6L957.65 1490.9L960.85 1490.9L960.85 1470.2L960.85 1532.1L960.85 1508.7L964.05 1508.7L964.05 1485.4L964.05 1539.2L964.05 1519.6L967.24 1519.6L967.24 1501.1L967.24 1538.1L967.24 1503.3L970.44 1503.3L970.44 1495.3L970.44 1505.5L970.44 1499.1L973.64 1499.1L973.64 1481.3L973.64 1503.0L973.64 1488.7L976.84 1488.7L976.84 1473.5L976.84 1496.0L976.84 1482.3L980.03 1482.3L980.03 1474.2L980.03 1490.5L980.03 1482.8L983.23 1482.8L983.23 1475.1L983.23 1505.0L983.23 1490.1L986.43 1490.1L986.43 1465.2L986.43 1511.5L986.43 1488.4L989.62 1488.4L989.62 1457.3L989.62 1513.3L989.62 1485.3L992.82 1485.3L992.82 1457.3L992.82 1527.6L992.82 1506.5L996.02 1506.5L996.02 1485.5L996.02 1544.5L996.02 1526.0L999.22 1526.0L999.22 1507.5L999.22 1548.9L999.22 1519.2L1002.42 1519.2L1002.42 1490.5L1002.42 1531.0L1002.42 1500.6L1005.61 1500.6L1005.61 1474.5L1005.61 1510.6L1005.61 1487.4L1008.81 1487.4L1008.81 1462.9L1008.81 1500.3L1008.81 1481.6L1012.01 1481.6L1012.01 1462.9L1012.01 1519.7L1012.01 1502.2L1015.21 1502.2L1015.21 1484.7L1015.21 1523.3L1015.21 1509.6L1018.40 1509.6L1018.40 1495.9L1018.40 1524.6L1018.40 1510.4L1021.60 1510.4L1021.60 1496.2L1021.60 1542.2L1021.60 1519.2L1024.80 1519.2L1024.80 1492.4L1024.80 1544.2L1024.80 1516.4L1028.00 1516.4L1028.00 1471.8L1028.00 1540.4L1028.00 1506.1L1031.19 1506.1L1031.19 1470.2L1031.19 1545.6L1031.19 1498.6L1034.39 1498.6L1034.39 1478.0L1034.39 1519.2L1034.39 1505.3L1037.59 1505.3L1037.59 1491.5L1037.59 1521.3L1037.59 1507.1L1040.79 1507.1L1040.79 1492.9L1040.79 1526.6L1040.79 1509.8L1043.98 1509.8L1043.98 1485.2L1043.98 1529.4L1043.98 1500.8L1047.18 1500.8L1047.18 1480.0L1047.18 1516.5L1047.18 1501.9L1050.38 1501.9L1050.38 1487.4L1050.38 1518.8L1050.38 1509.9L1053.58 1509.9L1053.58 1501.1L1053.58 1533.9L1053.58 1517.5L1056.77 1517.5L1056.77 1487.7L1056.77 1534.3L1056.77 1507.6L1059.97 1507.6L1059.97 1469.4L1059.97 1527.5L1059.97 1492.1L1063.17 1492.1L1063.17 1469.4L1063.17 1514.8L1063.17 1492.5L1066.37 1492.5L1066.37 1470.5L1066.37 1514.5L1066.37 1508.0L1069.56 1508.0L1069.56 1501.5L1069.56 1541.0L1069.56 1529.4L1072.76 1529.4L1072.76 1517.8L1072.76 1542.6L1072.76 1531.5L1075.96 1531.5L1075.96 1520.5L1075.96 1543.4L1075.96 1531.9L1079.16 1531.9L1079.16 1512.3L1079.16 1544.8L1079.16 1522.5L1082.35 1522.5L1082.35 1497.8L1082.35 1532.7L1082.35 1515.2L1085.55 1515.2L1085.55 1497.8L1085.55 1535.6L1085.55 1524.8L1088.75 1524.8L1088.75 1514.1L1088.75 1537.5L1088.75 1525.8L1091.95 1525.8L1091.95 1514.0L1091.95 1537.5L1091.95 1521.9L1095.14 1521.9L1095.14 1512.9L1095.14 1529.8L1095.14 1518.1L1098.34 1518.1L1098.34 1497.2L1098.34 1523.3L1098.34 1509.3L1101.54 1509.3L1101.54 1483.1L1101.54 1521.3L1101.54 1502.2L1104.74 1502.2L1104.74 1482.1L1104.74 1528.6L1104.74 1505.4L1107.93 1505.4L1107.93 1466.0L1107.93 1528.6L1107.93 1496.9L1111.13 1496.9L1111.13 1457.3L1111.13 1527.8L1111.13 1495.9L1114.33 1495.9L1114.33 1467.7L1114.33 1524.2L1114.33 1513.6L1117.53 1513.6L1117.53 1503.0L1117.53 1524.3L1117.53 1515.5L1120.72 1515.5L1120.72 1507.5L1120.72 1523.5L1120.72 1515.3L1123.92 1515.3L1123.92 1471.4L1123.92 1523.1L1123.92 1488.8L1127.12 1488.8L1127.12 1463.8L1127.12 1506.1L1127.12 1482.0L1130.32 1482.0L1130.32 1459.7L1130.32 1500.3L1130.32 1480.0L1133.51 1480.0L1133.51 1459.7L1133.51 1508.6L1133.51 1496.6L1136.71 1496.6L1136.71 1484.6L1136.71 1512.3L1136.71 1502.5L1139.91 1502.5L1139.91 1492.8L1139.91 1512.1L1139.91 1504.2L1143.11 1504.2L1143.11 1496.2L1143.11 1516.0L1143.11 1506.1L1146.30 1506.1L1146.30 1475.6L1146.30 1516.5L1146.30 1486.3L1149.50 1486.3L1149.50 1450.8L1149.50 1497.0L1149.50 1473.9L1152.70 1473.9L1152.70 1450.8L1152.70 1501.9L1152.70 1477.0L1155.90 1477.0L1155.90 1452.1L1155.90 1519.3L1155.90 1498.8L1159.09 1498.8L1159.09 1478.4L1159.09 1539.2L1159.09 1508.8L1162.29 1508.8L1162.29 1476.6L1162.29 1539.2L1162.29 1502.8L1165.49 1502.8L1165.49 1470.2L1165.49 1528.9L1165.49 1491.7L1168.69 1491.7L1168.69 1470.2L1168.69 1513.2L1168.69 1499.0L1171.88 1499.0L1171.88 1484.8L1171.88 1521.3L1171.88 1500.9L1175.08 1500.9L1175.08 1480.1L1175.08 1517.0L1175.08 1487.7L1178.28 1487.7L1178.28 1474.6L1178.28 1495.3L1178.28 1481.3L1181.48 1481.3L1181.48 1473.5L1181.48 1488.0L1181.48 1480.4L1184.67 1480.4L1184.67 1473.5L1184.67 1487.3L1184.67 1484.1L1187.87 1484.1L1187.87 1480.9L1187.87 1503.5L1187.87 1500.7L1191.07 1500.7L1191.07 1497.8L1191.07 1525.8L1191.07 1511.8L1194.27 1511.8L1194.27 1494.3L1194.27 1526.8L1194.27 1509.8L1197.46 1509.8L1197.46 1489.9L1197.46 1525.4L1197.46 1504.0L1200.66 1504.0L1200.66 1486.9L1200.66 1518.1L1200.66 1496.7L1203.86 1496.7L1203.86 1479.5L1203.86 1506.5L1203.86 1490.7L1207.06 1490.7L1207.06 1463.2L1207.06 1501.8L1207.06 1479.9L1210.25 1479.9L1210.25 1449.2L1210.25 1496.6L1210.25 1472.0L1213.45 1472.0L1213.45 1449.2L1213.45 1494.8L1213.45 1485.0L1216.65 1485.0L1216.65 1475.2L1216.65 1495.1L1216.65 1484.9L1219.85 1484.9L1219.85 1475.1L1219.85 1494.6L1219.85 1483.1L1223.04 1483.1L1223.04 1474.7L1223.04 1491.2L1223.04 1482.6L1226.24 1482.6L1226.24 1468.9L1226.24 1490.5L1226.24 1479.7L1229.44 1479.7L1229.44 1466.3L1229.44 1490.5L1229.44 1478.4L1232.63 1478.4L1232.63 1463.8L1232.63 1491.9L1232.63 1480.2L1235.83 1480.2L1235.83 1468.5L1235.83 1499.9L1235.83 1493.8L1239.03 1493.8L1239.03 1487.8L1239.03 1514.9L1239.03 1503.2L1242.23 1503.2L1242.23 1491.5L1242.23 1517.5L1242.23 1506.2L1245.43 1506.2L1245.43 1495.0L1245.43 1534.7L1245.43 1514.8L1248.62 1514.8L1248.62 1492.9L1248.62 1539.2L1248.62 1516.1L1251.82 1516.1L1251.82 1483.2L1251.82 1539.2L1251.82 1498.2L1255.02 1498.2L1255.02 1483.2L1255.02 1513.2L1255.02 1501.5L1258.22 1501.5L1258.22 1489.9L1258.22 1523.5L1258.22 1515.0L1261.41 1515.0L1261.41 1506.4L1261.41 1528.5L1261.41 1520.3L1264.61 1520.3L1264.61 1512.1L1264.61 1535.0L1264.61 1525.5L1267.81 1525.5L1267.81 1516.0L1267.81 1541.2L1267.81 1529.6L1271.01 1529.6L1271.01 1518.0L1271.01 1542.0L1271.01 1531.3L1274.20 1531.3L1274.20 1520.5L1274.20 1542.3L1274.20 1529.1L1277.40 1529.1L1277.40 1472.2L1277.40 1537.6L1277.40 1495.5L1280.60 1495.5L1280.60 1459.7L1280.60 1518.8L1280.60 1489.5L1283.80 1489.5L1283.80 1460.3L1283.80 1519.7L1283.80 1508.3L1286.99 1508.3L1286.99 1496.9L1286.99 1522.8L1286.99 1511.9L1290.19 1511.9L1290.19 1501.1L1290.19 1527.8L1290.19 1514.4L1293.39 1514.4L1293.39 1486.5L1293.39 1539.2L1293.39 1513.9L1296.59 1513.9L1296.59 1488.6L1296.59 1539.2L1296.59 1509.8L1299.78 1509.8L1299.78 1467.9L1299.78 1530.9L1299.78 1484.1L1302.98 1484.1L1302.98 1455.7L1302.98 1500.3L1302.98 1478.0L1306.18 1478.0L1306.18 1455.7L1306.18 1511.8L1306.18 1502.3L1309.38 1502.3L1309.38 1492.8L1309.38 1527.8L1309.38 1514.4L1312.57 1514.4L1312.57 1501.1L1312.57 1527.8L1312.57 1513.7L1315.77 1513.7L1315.77 1492.9L1315.77 1526.2L1315.77 1506.6L1318.97 1506.6L1318.97 1493.9L1318.97 1519.4L1318.97 1511.3L1322.17 1511.3L1322.17 1503.2L1322.17 1519.7L1322.17 1513.2L1325.36 1513.2L1325.36 1506.8L1325.36 1545.0L1325.36 1531.1L1328.56 1531.1L1328.56 1517.3L1328.56 1547.3L1328.56 1522.6L1331.76 1522.6L1331.76 1490.0L1331.76 1527.9L1331.76 1498.1L1334.96 1498.1L1334.96 1483.2L1334.96 1506.1L1334.96 1489.6L1338.15 1489.6L1338.15 1450.0L1338.15 1496.0L1338.15 1469.0L1341.35 1469.0L1341.35 1451.3L1341.35 1486.8L1341.35 1480.0L1344.55 1480.0L1344.55 1478.4L1344.55 1481.7L1344.55 1479.6L1347.75 1479.6L1347.75 1467.0L1347.75 1480.8L1347.75 1473.9L1350.94 1473.9L1350.94 1467.0L1350.94 1497.4L1350.94 1482.9L1354.14 1482.9L1354.14 1468.4L1354.14 1531.9L1354.14 1510.0L1357.34 1510.0L1357.34 1488.1L1357.34 1531.9L1357.34 1508.3L1360.54 1508.3L1360.54 1476.1L1360.54 1528.6L1360.54 1486.5L1363.73 1486.5L1363.73 1470.2L1363.73 1497.0L1363.73 1488.4L1366.93 1488.4L1366.93 1479.8L1366.93 1541.7L1366.93 1524.2L1370.13 1524.2L1370.13 1506.8L1370.13 1570.0L1370.13 1543.7L1373.33 1543.7L1373.33 1517.3L1373.33 1570.0L1373.33 1531.1L1376.52 1531.1L1376.52 1517.3L1376.52 1544.9L1376.52 1520.1L1379.72 1520.1L1379.72 1472.2L1379.72 1523.0L1379.72 1491.5L1382.92 1491.5L1382.92 1470.3L1382.92 1510.8L1382.92 1488.5L1386.12 1488.5L1386.12 1469.1L1386.12 1506.7L1386.12 1487.9L1389.31 1487.9L1389.31 1467.0L1389.31 1508.1L1389.31 1504.6L1392.51 1504.6L1392.51 1501.1L1392.51 1513.2L1392.51 1507.1L1395.71 1507.1L1395.71 1490.3L1395.71 1514.3L1395.71 1502.3L1398.91 1502.3L1398.91 1483.2L1398.91 1576.1L1398.91 1541.8L1402.10 1541.8L1402.10 1507.5L1402.10 1584.6L1402.10 1546.0L1405.30 1546.0L1405.30 1496.6L1405.30 1584.6L1405.30 1521.1L1408.50 1521.1L1408.50 1486.5L1408.50 1545.6L1408.50 1520.2L1411.70 1520.2L1411.70 1494.7L1411.70 1562.1L1411.70 1533.7L1414.89 1533.7L1414.89 1507.5L1414.89 1559.9L1414.89 1533.7L1418.09 1533.7L1418.09 1458.9L1418.09 1562.5L1418.09 1489.3L1421.29 1489.3L1421.29 1458.9L1421.29 1519.7L1421.29 1491.6L1424.49 1491.6L1424.49 1463.5L1424.49 1521.4L1424.49 1501.5L1427.68 1501.5L1427.68 1481.5L1427.68 1525.4L1427.68 1503.5L1430.88 1503.5L1430.88 1477.5L1430.88 1530.0L1430.88 1515.0L1434.08 1515.0L1434.08 1501.1L1434.08 1529.0L1434.08 1514.5L1437.28 1514.5L1437.28 1485.3L1437.28 1528.0L1437.28 1506.6L1440.47 1506.6L1440.47 1476.7L1440.47 1538.3L1440.47 1509.1L1443.67 1509.1L1443.67 1479.9L1443.67 1539.7L1443.67 1516.3L1446.87 1516.3L1446.87 1494.5L1446.87 1538.1L1446.87 1516.3L1450.07 1516.3L1450.07 1493.6L1450.07 1543.3L1450.07 1528.1L1453.26 1528.1L1453.26 1512.8L1453.26 1551.6L1453.26 1536.6L1456.46 1536.6L1456.46 1521.6L1456.46 1553.8L1456.46 1537.2L1459.66 1537.2L1459.66 1520.5L1459.66 1552.7L1459.66 1533.9L1462.86 1533.9L1462.86 1466.9L1462.86 1547.3L1462.86 1507.1L1466.05 1507.1L1466.05 1462.1L1466.05 1553.8L1466.05 1510.8L1469.25 1510.8L1469.25 1467.9L1469.25 1553.8L1469.25 1529.0L1472.45 1529.0L1472.45 1507.5L1472.45 1550.4L1472.45 1526.5L1475.65 1526.5L1475.65 1492.9L1475.65 1545.4L1475.65 1514.2L1478.84 1514.2L1478.84 1498.8L1478.84 1529.5L1478.84 1519.0L1482.04 1519.0L1482.04 1510.8L1482.04 1527.1L1482.04 1519.0L1485.24 1519.0L1485.24 1509.6L1485.24 1527.8L1485.24 1518.7L1488.44 1518.7L1488.44 1487.0L1488.44 1527.8L1488.44 1507.4L1491.63 1507.4L1491.63 1484.3L1491.63 1534.3L1491.63 1509.5L1494.83 1509.5L1494.83 1484.9L1494.83 1534.2L1494.83 1502.0L1498.03 1502.0L1498.03 1486.8L1498.03 1517.1L1498.03 1499.2L1501.23 1499.2L1501.23 1479.5L1501.23 1511.6L1501.23 1495.6L1504.42 1495.6L1504.42 1470.2L1504.42 1521.5L1504.42 1497.0L1507.62 1497.0L1507.62 1472.5L1507.62 1548.5L1507.62 1528.8L1510.82 1528.8L1510.82 1509.1L1510.82 1554.7L1510.82 1537.4L1514.02 1537.4L1514.02 1520.1L1514.02 1555.9L1514.02 1538.0L1517.21 1538.0L1517.21 1519.4L1517.21 1557.7L1517.21 1539.3L1520.41 1539.3L1520.41 1520.9L1520.41 1558.9L1520.41 1544.0L1523.61 1544.0L1523.61 1529.0L1523.61 1568.3L1523.61 1551.8L1526.81 1551.8L1526.81 1536.7L1526.81 1566.8L1526.81 1544.3L1530.00 1544.3L1530.00 1530.1L1530.00 1551.9L1530.00 1540.4L1533.20 1540.4L1533.20 1501.3L1533.20 1550.8L1533.20 1524.9L1536.40 1524.9L1536.40 1501.2L1536.40 1548.5L1536.40 1520.5L1539.60 1520.5L1539.60 1475.3L1539.60 1539.8L1539.60 1503.3L1542.79 1503.3L1542.79 1462.9L1542.79 1531.3L1542.79 1495.5L1545.99 1495.5L1545.99 1462.9L1545.99 1528.0L1545.99 1519.0L1549.19 1519.0L1549.19 1510.1L1549.19 1531.1L1549.19 1522.5L1552.39 1522.5L1552.39 1514.0L1552.39 1532.3L1552.39 1523.2L1555.58 1523.2L1555.58 1507.5L1555.58 1535.9L1555.58 1523.2L1558.78 1523.2L1558.78 1510.5L1558.78 1538.7L1558.78 1528.0L1561.98 1528.0L1561.98 1517.3L1561.98 1539.2L1561.98 1528.2L1565.18 1528.2L1565.18 1473.5L1565.18 1539.2L1565.18 1506.3L1568.37 1506.3L1568.37 1473.5L1568.37 1539.2L1568.37 1516.1L1571.57 1516.1L1571.57 1493.1L1571.57 1539.2L1571.57 1521.2L1574.77 1521.2L1574.77 1507.5L1574.77 1535.0L1574.77 1519.0L1577.97 1519.0L1577.97 1494.6L1577.97 1530.6L1577.97 1511.5L1581.16 1511.5L1581.16 1481.6L1581.16 1528.5L1581.16 1505.9L1584.36 1505.9L1584.36 1483.9L1584.36 1527.8L1584.36 1518.7L1587.56 1518.7L1587.56 1509.6L1587.56 1570.7L1587.56 1544.5L1590.76 1544.5L1590.76 1518.3L1590.76 1571.6L1590.76 1546.0L1593.95 1546.0L1593.95 1520.5L1593.95 1571.6L1593.95 1529.0L1597.15 1529.0L1597.15 1502.3L1597.15 1537.5L1597.15 1519.9L1600.35 1519.9L1600.35 1496.2L1600.35 1544.2L1600.35 1523.7L1603.55 1523.7L1603.55 1503.2L1603.55 1546.7L1603.55 1531.4L1606.74 1531.4L1606.74 1517.3L1606.74 1545.6L1606.74 1531.4L1609.94 1531.4L1609.94 1504.3L1609.94 1553.8L1609.94 1530.3L1613.14 1530.3L1613.14 1506.9L1613.14 1553.8L1613.14 1535.6L1616.34 1535.6L1616.34 1520.5L1616.34 1550.6L1616.34 1528.9L1619.53 1528.9L1619.53 1510.7L1619.53 1537.2L1619.53 1522.3L1622.73 1522.3L1622.73 1493.5L1622.73 1533.8L1622.73 1508.2L1625.93 1508.2L1625.93 1491.3L1625.93 1523.0L1625.93 1508.2L1629.12 1508.2L1629.12 1493.5L1629.12 1534.1L1629.12 1516.0L1632.32 1516.0L1632.32 1497.8L1632.32 1537.5L1632.32 1512.5L1635.52 1512.5L1635.52 1483.2L1635.52 1527.1L1635.52 1502.3L1638.72 1502.3L1638.72 1480.0L1638.72 1521.3L1638.72 1500.7L1641.92 1500.7L1641.92 1480.0L1641.92 1537.8L1641.92 1523.4L1645.11 1523.4L1645.11 1509.0L1645.11 1548.1L1645.11 1530.0L1648.31 1530.0L1648.31 1517.3L1648.31 1542.8L1648.31 1520.9L1651.51 1520.9L1651.51 1515.8L1651.51 1524.6L1651.51 1520.2L1654.71 1520.2L1654.71 1515.4L1654.71 1544.0L1654.71 1529.2L1657.90 1529.2L1657.90 1510.4L1657.90 1543.0L1657.90 1517.8L1661.10 1517.8L1661.10 1507.7L1661.10 1525.2L1661.10 1514.6L1664.30 1514.6L1664.30 1508.0L1664.30 1521.2L1664.30 1514.1L1667.50 1514.1L1667.50 1507.0L1667.50 1520.3L1667.50 1513.6L1670.69 1513.6L1670.69 1502.6L1670.69 1521.1L1670.69 1509.7L1673.89 1509.7L1673.89 1498.2L1673.89 1516.8L1673.89 1504.9L1677.09 1504.9L1677.09 1497.0L1677.09 1511.6L1677.09 1504.3L1680.29 1504.3L1680.29 1492.3L1680.29 1511.6L1680.29 1502.0L1683.48 1502.0L1683.48 1489.7L1683.48 1511.6L1683.48 1506.6L1686.68 1506.6L1686.68 1501.6L1686.68 1522.3L1686.68 1514.4L1689.88 1514.4L1689.88 1506.4L1689.88 1539.2L1689.88 1523.0L1693.08 1523.0L1693.08 1506.8L1693.08 1539.1L1693.08 1516.9L1696.27 1516.9L1696.27 1509.3L1696.27 1524.6L1696.27 1519.8L1699.47 1519.8L1699.47 1515.1L1699.47 1562.7L1699.47 1539.7L1702.67 1539.7L1702.67 1517.7L1702.67 1561.6L1702.67 1535.3L1705.87 1535.3L1705.87 1518.9L1705.87 1551.7L1705.87 1536.8L1709.06 1536.8L1709.06 1523.1L1709.06 1550.5L1709.06 1537.1L1712.26 1537.1L1712.26 1523.8L1712.26 1557.3L1712.26 1541.0L1715.46 1541.0L1715.46 1524.6L1715.46 1565.1L1715.46 1543.0L1718.65 1543.0L1718.65 1512.3L1718.65 1561.3L1718.65 1525.5L1721.85 1525.5L1721.85 1499.4L1721.85 1538.8L1721.85 1512.5L1725.05 1512.5L1725.05 1500.3L1725.05 1524.6L1725.05 1518.1L1728.25 1518.1L1728.25 1511.7L1728.25 1526.5L1728.25 1521.9L1731.44 1521.9L1731.44 1517.3L1731.44 1557.7L1731.44 1548.8L1734.64 1548.8L1734.64 1540.0L1734.64 1561.9L1734.64 1547.3L1737.84 1547.3L1737.84 1521.3L1737.84 1554.5L1737.84 1530.4L1741.04 1530.4L1741.04 1485.3L1741.04 1539.5L1741.04 1498.4L1744.23 1498.4L1744.23 1483.2L1744.23 1511.6L1744.23 1497.4L1747.43 1497.4L1747.43 1483.2L1747.43 1513.2L1747.43 1507.3L1750.63 1507.3L1750.63 1501.5L1750.63 1527.4L1750.63 1515.2L1753.83 1515.2L1753.83 1503.1L1753.83 1543.9L1753.83 1527.2L1757.02 1527.2L1757.02 1510.4L1757.02 1544.7L1757.02 1537.5L1760.22 1537.5L1760.22 1530.2L1760.22 1559.9L1760.22 1545.1L1763.42 1545.1L1763.42 1515.4L1763.42 1562.7L1763.42 1535.4L1766.62 1535.4L1766.62 1514.0L1766.62 1555.4" stroke-width="4.1" stroke-linejoin="bevel" stroke-linecap="butt"/>
</g>
<line x1="1562" y1="156.3" x2="1707.5" y2="156.3" stroke="#ff0000" stroke-width="5"/>
<line x1="1562" y1="206.6" x2="1707.5" y2="206.6" stroke="#0000ff" stroke-width="5"/>
<line x1="1562" y1="1071.6" x2="1707.5" y2="1071.6" stroke="#ff0000" stroke-width="5"/>
<line x1="1562" y1="1122.1" x2="1707.5" y2="1122.1" stroke="#0000ff" stroke-width="5"/>
<text transform="translate(158.79 91.30) scale(1.2144 1)" font-size="49.50" fill="#262626" stroke="#262626" stroke-width="1.1" stroke-linejoin="round">10</text>
<text transform="translate(214.61 67.70) scale(1.4000 1)" font-size="40.00" fill="#262626" stroke="#262626" stroke-width="1.1" stroke-linejoin="round">1</text>
<text transform="translate(158.79 312.80) scale(1.2144 1)" font-size="49.50" fill="#262626" stroke="#262626" stroke-width="1.1" stroke-linejoin="round">10</text>
<text transform="translate(217.45 288.60) scale(1.2202 1)" font-size="40.00" fill="#262626" stroke="#262626" stroke-width="1.1" stroke-linejoin="round">0</text>
<text transform="translate(143.63 530.80) scale(1.2052 1)" font-size="49.50" fill="#262626" stroke="#262626" stroke-width="1.1" stroke-linejoin="round">10</text>
<text transform="translate(201.66 506.80) scale(1.2415 1)" font-size="40.00" fill="#262626" stroke="#262626" stroke-width="1.1" stroke-linejoin="round">-1</text>
<text transform="translate(143.63 751.90) scale(1.2052 1)" font-size="49.50" fill="#262626" stroke="#262626" stroke-width="1.1" stroke-linejoin="round">10</text>
<text transform="translate(201.67 728.30) scale(1.2331 1)" font-size="40.00" fill="#262626" stroke="#262626" stroke-width="1.1" stroke-linejoin="round">-2</text>
<text transform="translate(158.79 1006.30) scale(1.2144 1)" font-size="49.50" fill="#262626" stroke="#262626" stroke-width="1.1" stroke-linejoin="round">10</text>
<text transform="translate(214.61 982.70) scale(1.4000 1)" font-size="40.00" fill="#262626" stroke="#262626" stroke-width="1.1" stroke-linejoin="round">1</text>
<text transform="translate(158.79 1227.70) scale(1.2144 1)" font-size="49.50" fill="#262626" stroke="#262626" stroke-width="1.1" stroke-linejoin="round">10</text>
<text transform="translate(217.45 1203.60) scale(1.2202 1)" font-size="40.00" fill="#262626" stroke="#262626" stroke-width="1.1" stroke-linejoin="round">0</text>
<text transform="translate(143.63 1445.40) scale(1.2052 1)" font-size="49.50" fill="#262626" stroke="#262626" stroke-width="1.1" stroke-linejoin="round">10</text>
<text transform="translate(201.66 1421.80) scale(1.2415 1)" font-size="40.00" fill="#262626" stroke="#262626" stroke-width="1.1" stroke-linejoin="round">-1</text>
<text transform="translate(143.63 1666.60) scale(1.2052 1)" font-size="49.50" fill="#262626" stroke="#262626" stroke-width="1.1" stroke-linejoin="round">10</text>
<text transform="translate(201.67 1643.30) scale(1.2331 1)" font-size="40.00" fill="#262626" stroke="#262626" stroke-width="1.1" stroke-linejoin="round">-2</text>
<text transform="translate(248.21 1706.60) scale(1.2196 1)" font-size="49.00" fill="#262626" stroke="#262626" stroke-width="1.1" stroke-linejoin="round">0</text>
<text transform="translate(591.95 1706.60) scale(1.2014 1)" font-size="49.00" fill="#262626" stroke="#262626" stroke-width="1.1" stroke-linejoin="round">200</text>
<text transform="translate(963.54 1706.60) scale(1.1791 1)" font-size="49.00" fill="#262626" stroke="#262626" stroke-width="1.1" stroke-linejoin="round">400</text>
<text transform="translate(1335.00 1706.60) scale(1.1798 1)" font-size="49.00" fill="#262626" stroke="#262626" stroke-width="1.1" stroke-linejoin="round">600</text>
<text transform="translate(1705.59 1706.60) scale(1.1771 1)" font-size="49.00" fill="#262626" stroke="#262626" stroke-width="1.1" stroke-linejoin="round">800</text>
<text transform="translate(2059.89 1706.60) scale(1.2048 1)" font-size="49.00" fill="#262626" stroke="#262626" stroke-width="1.1" stroke-linejoin="round">1000</text>
<text transform="translate(490.86 175.20) scale(1.0734 1)" font-size="61.00" fill="#000" stroke="#000" stroke-width="2.2" stroke-linejoin="round">B1I</text>
<text transform="translate(478.85 1127.00) scale(1.0791 1)" font-size="61.00" fill="#000" stroke="#000" stroke-width="2.2" stroke-linejoin="round">B3I</text>
<text transform="translate(1721.60 175.20) scale(1.2380 1)" font-size="49.50" fill="#000" stroke="#000" stroke-width="1.8" stroke-linejoin="round">Single:</text>
<text transform="translate(1907.67 175.20) scale(1.1149 1)" font-size="49.50" fill="#000" stroke="#000" stroke-width="1.8" stroke-linejoin="round">0.194</text>
<text transform="translate(1720.92 224.90) scale(1.2698 1)" font-size="49.50" fill="#000" stroke="#000" stroke-width="1.8" stroke-linejoin="round">Two:</text>
<text transform="translate(1899.97 224.90) scale(1.1149 1)" font-size="49.50" fill="#000" stroke="#000" stroke-width="1.8" stroke-linejoin="round">0.094</text>
<text transform="translate(1721.60 1090.10) scale(1.2380 1)" font-size="49.50" fill="#000" stroke="#000" stroke-width="1.8" stroke-linejoin="round">Single:</text>
<text transform="translate(1907.63 1090.10) scale(1.1383 1)" font-size="49.50" fill="#000" stroke="#000" stroke-width="1.8" stroke-linejoin="round">0.081</text>
<text transform="translate(1720.92 1139.80) scale(1.2698 1)" font-size="49.50" fill="#000" stroke="#000" stroke-width="1.8" stroke-linejoin="round">Two:</text>
<text transform="translate(1899.95 1139.80) scale(1.1278 1)" font-size="49.50" fill="#000" stroke="#000" stroke-width="1.8" stroke-linejoin="round">0.040</text>
<text transform="translate(1161.18 793.40) scale(1.0816 1)" font-size="55.00" fill="#262626" stroke="#262626" stroke-width="1.6" stroke-linejoin="round">(a)</text>
<text transform="translate(1157.19 1769.00) scale(1.1582 1)" font-size="55.00" fill="#262626" stroke="#262626" stroke-width="1.6" stroke-linejoin="round">(b)</text>
<text transform="translate(0 1827.2) scale(1.285 1)" font-size="60.0" fill="#000" stroke="#000" stroke-width="2.0" stroke-linejoin="round"><tspan x="678.08">Number </tspan><tspan x="886.08">of </tspan><tspan x="950.02">Generation</tspan></text>
<text transform="translate(73.1 0) rotate(-90) scale(0.93 1)" font-size="64.9" fill="#262626"><tspan x="-1328.27">Average </tspan><tspan x="-1098.33">CDF </tspan><tspan x="-956.35">Difference</tspan></text>
</g>
</svg>
</body></html>
